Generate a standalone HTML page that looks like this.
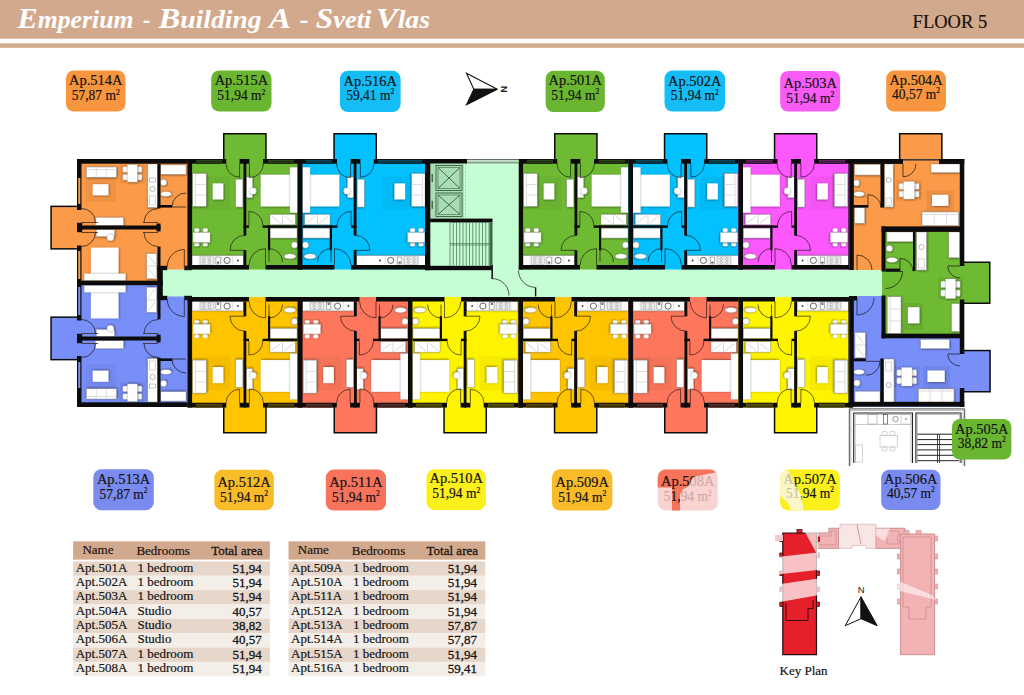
<!DOCTYPE html>
<html><head><meta charset="utf-8"><title>Emperium - Building A - Floor 5</title>
<style>
html,body{margin:0;padding:0;background:#fff;}
body{width:1024px;height:695px;overflow:hidden;}
svg{display:block;font-family:"Liberation Serif",serif;}
</style></head><body>
<svg width="1024" height="695" viewBox="0 0 1024 695">
<defs><filter id="ds" x="-20%" y="-20%" width="140%" height="140%"><feDropShadow dx="0.6" dy="0.6" stdDeviation="1.0" flood-color="#000" flood-opacity="0.5"/></filter></defs>
<rect width="1024" height="695" fill="#fff"/>
<rect x="157.50" y="268.00" width="728.50" height="30.50" fill="#C5FDD4" />
<path d="M77 159H190V269.5H160.5V283H77Z" fill="#FB9A48"/>
<rect x="50.30" y="205.60" width="28.70" height="44.00" fill="#0c0c0c" />
<rect x="51.80" y="207.10" width="27.20" height="41.00" fill="#FB9A48" />
<rect x="86.00" y="177.00" width="30.00" height="25.00" fill="rgba(0,0,0,0.04)" />
<rect x="86.30" y="167.00" width="30.20" height="10.20" fill="#FFFFFF" filter="url(#ds)" stroke="#8a8a8a" stroke-width="0.5"/>
<path d="M96.3 167.5v9.5M106.3 167.5v9.5M87 169.5h29" stroke="#c8c8c8" stroke-width="0.6" fill="none"/>
<rect x="92.70" y="184.20" width="15.70" height="11.10" fill="#FFFFFF" filter="url(#ds)" />
<rect x="119.90" y="163.20" width="24.90" height="20.30" fill="rgba(0,0,0,0.06)" />
<rect x="122.90" y="166.78" width="5.10" height="5.54" fill="#FFFFFF" filter="url(#ds)" rx="1.2" stroke="#bbb" stroke-width="0.3"/>
<rect x="136.70" y="166.78" width="5.10" height="5.54" fill="#FFFFFF" filter="url(#ds)" rx="1.2" stroke="#bbb" stroke-width="0.3"/>
<rect x="122.90" y="174.39" width="5.10" height="5.54" fill="#FFFFFF" filter="url(#ds)" rx="1.2" stroke="#bbb" stroke-width="0.3"/>
<rect x="136.70" y="174.39" width="5.10" height="5.54" fill="#FFFFFF" filter="url(#ds)" rx="1.2" stroke="#bbb" stroke-width="0.3"/>
<rect x="127.50" y="164.70" width="9.70" height="17.30" fill="#FFFFFF" filter="url(#ds)" stroke="#bbb" stroke-width="0.3"/>
<rect x="147.70" y="164.00" width="9.80" height="43.40" fill="#FFFFFF" filter="url(#ds)" stroke="#8a8a8a" stroke-width="0.5"/>
<circle cx="152.6" cy="189" r="2.6" fill="none" stroke="#8a8a8a" stroke-width="0.6"/>
<rect x="149.5" y="196" width="6" height="9" fill="none" stroke="#aaa" stroke-width="0.5"/>
<rect x="149.5" y="178" width="6" height="4" fill="none" stroke="#8a8a8a" stroke-width="0.5"/>
<rect x="160.80" y="165.00" width="25.20" height="9.20" fill="#FFFFFF" filter="url(#ds)" stroke="#8a8a8a" stroke-width="0.4"/>
<circle cx="163.5" cy="182.5" r="3.2" fill="#FFFFFF" filter="url(#ds)" stroke="#888" stroke-width="0.5"/>
<ellipse cx="166" cy="194" rx="5.5" ry="2.6" fill="#FFFFFF" filter="url(#ds)" stroke="#888" stroke-width="0.4"/>
<rect x="95.30" y="217.40" width="28.20" height="8.10" fill="#FFFFFF" filter="url(#ds)" stroke="#8a8a8a" stroke-width="0.4"/>
<rect x="96.30" y="229.50" width="18.20" height="7.10" fill="#FFFFFF" filter="url(#ds)" stroke="#8a8a8a" stroke-width="0.4"/>
<circle cx="110.4" cy="237.5" r="3.3" fill="#FFFFFF" filter="url(#ds)" stroke="#c0c0c0" stroke-width="0.4"/>
<rect x="90.90" y="247.60" width="27.60" height="31.20" fill="#FFFFFF" filter="url(#ds)" />
<rect x="84.30" y="273.80" width="41.20" height="6.70" fill="#FFFFFF" filter="url(#ds)" stroke="#cfcfcf" stroke-width="0.4"/>
<rect x="146.70" y="253.70" width="10.00" height="25.10" fill="#FFFFFF" filter="url(#ds)" stroke="#8a8a8a" stroke-width="0.4"/>
<path d="M146.7 266h10M148 255l7 9M148 268l7 9" stroke="#999" stroke-width="0.4" fill="none"/>
<rect x="77.00" y="159.00" width="4.50" height="19.00" fill="#0c0c0c" />
<rect x="77.00" y="178.00" width="1.20" height="26.00" fill="#0c0c0c" />
<rect x="80.30" y="178.00" width="1.20" height="26.00" fill="#0c0c0c" />
<rect x="77.00" y="204.00" width="4.50" height="6.00" fill="#0c0c0c" />
<rect x="77.00" y="245.50" width="4.50" height="5.50" fill="#0c0c0c" />
<rect x="77.00" y="251.00" width="1.20" height="28.00" fill="#0c0c0c" />
<rect x="80.30" y="251.00" width="1.20" height="28.00" fill="#0c0c0c" />
<rect x="77.00" y="279.00" width="4.50" height="4.00" fill="#0c0c0c" />
<rect x="77.00" y="159.00" width="113.00" height="4.70" fill="#0c0c0c" />
<rect x="77.00" y="225.50" width="83.50" height="4.00" fill="#0c0c0c" />
<rect x="77.00" y="222.80" width="5.20" height="9.40" fill="#0c0c0c" />
<rect x="156.50" y="223.50" width="4.00" height="8.00" fill="#0c0c0c" />
<rect x="81.50" y="222.20" width="16.50" height="0.80" fill="#3a2a1a" />
<rect x="81.50" y="232.00" width="16.50" height="0.80" fill="#3a2a1a" />
<rect x="143.00" y="222.20" width="15.00" height="0.80" fill="#3a2a1a" />
<rect x="143.00" y="232.00" width="15.00" height="0.80" fill="#3a2a1a" />
<rect x="157.50" y="163.70" width="3.00" height="44.70" fill="#0c0c0c" />
<rect x="157.50" y="246.60" width="3.00" height="36.40" fill="#0c0c0c" />
<rect x="157.50" y="205.00" width="14.50" height="2.60" fill="#0c0c0c" />
<rect x="77.00" y="280.80" width="85.80" height="4.40" fill="#0c0c0c" />
<path d="M81.50 208.50 A14 14 0 0 1 95.50 222.50" stroke="#111" stroke-width="0.8" fill="none" opacity="0.85"/>
<path d="M81.50 246.50 A14 14 0 0 0 95.50 232.50" stroke="#111" stroke-width="0.8" fill="none" opacity="0.85"/>
<path d="M158.00 208.50 A14 14 0 0 0 144.00 222.50" stroke="#111" stroke-width="0.8" fill="none" opacity="0.85"/>
<path d="M158.00 246.50 A14 14 0 0 1 144.00 232.50" stroke="#111" stroke-width="0.8" fill="none" opacity="0.85"/>
<path d="M186.00 207.00 L172.00 207.00 A14 14 0 0 1 186.00 193.00" stroke="#111" stroke-width="0.8" fill="none" opacity="0.85"/>
<path d="M184.30 266.50 L184.30 249.50 A17 17 0 0 0 167.30 266.50" stroke="#111" stroke-width="0.8" fill="none" opacity="0.85"/>
<rect x="157.50" y="265.80" width="9.70" height="4.40" fill="#0c0c0c" />
<rect x="184.30" y="265.80" width="7.70" height="4.40" fill="#0c0c0c" />
<g transform="matrix(1 0 0 -1 0 566)">
<path d="M77 159H190V269.5H160.5V283H77Z" fill="#788FF9"/>
<rect x="50.30" y="205.60" width="28.70" height="44.00" fill="#0c0c0c" />
<rect x="51.80" y="207.10" width="27.20" height="41.00" fill="#788FF9" />
<rect x="86.00" y="177.00" width="30.00" height="25.00" fill="rgba(0,0,0,0.04)" />
<rect x="86.30" y="167.00" width="30.20" height="10.20" fill="#FFFFFF" filter="url(#ds)" stroke="#8a8a8a" stroke-width="0.5"/>
<path d="M96.3 167.5v9.5M106.3 167.5v9.5M87 169.5h29" stroke="#c8c8c8" stroke-width="0.6" fill="none"/>
<rect x="92.70" y="184.20" width="15.70" height="11.10" fill="#FFFFFF" filter="url(#ds)" />
<rect x="119.90" y="163.20" width="24.90" height="20.30" fill="rgba(0,0,0,0.06)" />
<rect x="122.90" y="166.78" width="5.10" height="5.54" fill="#FFFFFF" filter="url(#ds)" rx="1.2" stroke="#bbb" stroke-width="0.3"/>
<rect x="136.70" y="166.78" width="5.10" height="5.54" fill="#FFFFFF" filter="url(#ds)" rx="1.2" stroke="#bbb" stroke-width="0.3"/>
<rect x="122.90" y="174.39" width="5.10" height="5.54" fill="#FFFFFF" filter="url(#ds)" rx="1.2" stroke="#bbb" stroke-width="0.3"/>
<rect x="136.70" y="174.39" width="5.10" height="5.54" fill="#FFFFFF" filter="url(#ds)" rx="1.2" stroke="#bbb" stroke-width="0.3"/>
<rect x="127.50" y="164.70" width="9.70" height="17.30" fill="#FFFFFF" filter="url(#ds)" stroke="#bbb" stroke-width="0.3"/>
<rect x="147.70" y="164.00" width="9.80" height="43.40" fill="#FFFFFF" filter="url(#ds)" stroke="#8a8a8a" stroke-width="0.5"/>
<circle cx="152.6" cy="189" r="2.6" fill="none" stroke="#8a8a8a" stroke-width="0.6"/>
<rect x="149.5" y="196" width="6" height="9" fill="none" stroke="#aaa" stroke-width="0.5"/>
<rect x="149.5" y="178" width="6" height="4" fill="none" stroke="#8a8a8a" stroke-width="0.5"/>
<rect x="160.80" y="165.00" width="25.20" height="9.20" fill="#FFFFFF" filter="url(#ds)" stroke="#8a8a8a" stroke-width="0.4"/>
<circle cx="163.5" cy="182.5" r="3.2" fill="#FFFFFF" filter="url(#ds)" stroke="#888" stroke-width="0.5"/>
<ellipse cx="166" cy="194" rx="5.5" ry="2.6" fill="#FFFFFF" filter="url(#ds)" stroke="#888" stroke-width="0.4"/>
<rect x="95.30" y="217.40" width="28.20" height="8.10" fill="#FFFFFF" filter="url(#ds)" stroke="#8a8a8a" stroke-width="0.4"/>
<rect x="96.30" y="229.50" width="18.20" height="7.10" fill="#FFFFFF" filter="url(#ds)" stroke="#8a8a8a" stroke-width="0.4"/>
<circle cx="110.4" cy="237.5" r="3.3" fill="#FFFFFF" filter="url(#ds)" stroke="#c0c0c0" stroke-width="0.4"/>
<rect x="90.90" y="247.60" width="27.60" height="31.20" fill="#FFFFFF" filter="url(#ds)" />
<rect x="84.30" y="273.80" width="41.20" height="6.70" fill="#FFFFFF" filter="url(#ds)" stroke="#cfcfcf" stroke-width="0.4"/>
<rect x="146.70" y="253.70" width="10.00" height="25.10" fill="#FFFFFF" filter="url(#ds)" stroke="#8a8a8a" stroke-width="0.4"/>
<path d="M146.7 266h10M148 255l7 9M148 268l7 9" stroke="#999" stroke-width="0.4" fill="none"/>
<rect x="77.00" y="159.00" width="4.50" height="19.00" fill="#0c0c0c" />
<rect x="77.00" y="178.00" width="1.20" height="26.00" fill="#0c0c0c" />
<rect x="80.30" y="178.00" width="1.20" height="26.00" fill="#0c0c0c" />
<rect x="77.00" y="204.00" width="4.50" height="6.00" fill="#0c0c0c" />
<rect x="77.00" y="245.50" width="4.50" height="5.50" fill="#0c0c0c" />
<rect x="77.00" y="251.00" width="1.20" height="28.00" fill="#0c0c0c" />
<rect x="80.30" y="251.00" width="1.20" height="28.00" fill="#0c0c0c" />
<rect x="77.00" y="279.00" width="4.50" height="4.00" fill="#0c0c0c" />
<rect x="77.00" y="159.00" width="113.00" height="4.70" fill="#0c0c0c" />
<rect x="77.00" y="225.50" width="83.50" height="4.00" fill="#0c0c0c" />
<rect x="77.00" y="222.80" width="5.20" height="9.40" fill="#0c0c0c" />
<rect x="156.50" y="223.50" width="4.00" height="8.00" fill="#0c0c0c" />
<rect x="81.50" y="222.20" width="16.50" height="0.80" fill="#3a2a1a" />
<rect x="81.50" y="232.00" width="16.50" height="0.80" fill="#3a2a1a" />
<rect x="143.00" y="222.20" width="15.00" height="0.80" fill="#3a2a1a" />
<rect x="143.00" y="232.00" width="15.00" height="0.80" fill="#3a2a1a" />
<rect x="157.50" y="163.70" width="3.00" height="44.70" fill="#0c0c0c" />
<rect x="157.50" y="246.60" width="3.00" height="36.40" fill="#0c0c0c" />
<rect x="157.50" y="205.00" width="14.50" height="2.60" fill="#0c0c0c" />
<rect x="77.00" y="280.80" width="85.80" height="4.40" fill="#0c0c0c" />
<path d="M81.50 208.50 A14 14 0 0 1 95.50 222.50" stroke="#111" stroke-width="0.8" fill="none" opacity="0.85"/>
<path d="M81.50 246.50 A14 14 0 0 0 95.50 232.50" stroke="#111" stroke-width="0.8" fill="none" opacity="0.85"/>
<path d="M158.00 208.50 A14 14 0 0 0 144.00 222.50" stroke="#111" stroke-width="0.8" fill="none" opacity="0.85"/>
<path d="M158.00 246.50 A14 14 0 0 1 144.00 232.50" stroke="#111" stroke-width="0.8" fill="none" opacity="0.85"/>
<path d="M186.00 207.00 L172.00 207.00 A14 14 0 0 1 186.00 193.00" stroke="#111" stroke-width="0.8" fill="none" opacity="0.85"/>
<path d="M184.30 266.50 L184.30 249.50 A17 17 0 0 0 167.30 266.50" stroke="#111" stroke-width="0.8" fill="none" opacity="0.85"/>
<rect x="157.50" y="265.80" width="9.70" height="4.40" fill="#0c0c0c" />
<rect x="184.30" y="265.80" width="7.70" height="4.40" fill="#0c0c0c" />
</g>
<g transform="matrix(1 0 0 1 187.50 159.00)">
<rect x="0.00" y="0.00" width="114.50" height="110.50" fill="#6FBA33" />
<rect x="35.50" y="-26.00" width="43.70" height="27.00" fill="#0c0c0c" />
<rect x="37.00" y="-24.50" width="40.70" height="26.50" fill="#6FBA33" />
<rect x="19.30" y="17.40" width="23.60" height="33.60" fill="rgba(0,0,0,0.04)" />
<rect x="5.20" y="14.40" width="13.50" height="33.00" fill="#FFFFFF" filter="url(#ds)" stroke="#8a8a8a" stroke-width="0.5"/>
<path d="M8 15v32M8 25.5h10.5M8 36h10.5" stroke="#c8c8c8" stroke-width="0.6" fill="none"/>
<rect x="25.20" y="24.40" width="10.60" height="16.00" fill="#FFFFFF" filter="url(#ds)" />
<rect x="48.20" y="20.30" width="7.10" height="27.70" fill="#FFFFFF" filter="url(#ds)" stroke="#8a8a8a" stroke-width="0.4"/>
<rect x="6.80" y="69.30" width="5.00" height="3.90" fill="#FFFFFF" filter="url(#ds)" rx="1.6" stroke="#bbb" stroke-width="0.3"/>
<rect x="6.80" y="83.40" width="5.00" height="3.90" fill="#FFFFFF" filter="url(#ds)" rx="1.6" stroke="#bbb" stroke-width="0.3"/>
<rect x="15.30" y="69.30" width="5.00" height="3.90" fill="#FFFFFF" filter="url(#ds)" rx="1.6" stroke="#bbb" stroke-width="0.3"/>
<rect x="15.30" y="83.40" width="5.00" height="3.90" fill="#FFFFFF" filter="url(#ds)" rx="1.6" stroke="#bbb" stroke-width="0.3"/>
<rect x="5.60" y="73.60" width="16.90" height="9.60" fill="#FFFFFF" filter="url(#ds)" stroke="#bbb" stroke-width="0.3"/>
<rect x="4.50" y="96.60" width="51.30" height="9.70" fill="#FFFFFF" filter="url(#ds)" stroke="#8a8a8a" stroke-width="0.5"/>
<path d="M11.7 96.6v9.7M26.8 96.6v9.7M34.2 96.6v9.7M45.2 96.6v9.7" stroke="#c4c4c4" stroke-width="0.5"/>
<rect x="12.6" y="97.8" width="13.2" height="7.4" fill="#ececec" stroke="#9a9a9a" stroke-width="0.4"/>
<circle cx="16.2" cy="99.9" r="1.3" fill="none" stroke="#8a8a8a" stroke-width="0.45"/>
<circle cx="21.8" cy="99.9" r="1.3" fill="none" stroke="#8a8a8a" stroke-width="0.45"/>
<circle cx="16.2" cy="103.2" r="1.3" fill="none" stroke="#8a8a8a" stroke-width="0.45"/>
<circle cx="21.8" cy="103.2" r="1.3" fill="none" stroke="#8a8a8a" stroke-width="0.45"/>
<rect x="28.4" y="98" width="4.4" height="7" fill="none" stroke="#666" stroke-width="0.5"/>
<rect x="29.6" y="102.6" width="2" height="1.8" fill="#556"/>
<circle cx="39.6" cy="101.4" r="3.1" fill="none" stroke="#4a4a4a" stroke-width="0.85"/>
<circle cx="50.4" cy="101.5" r="0.9" fill="#333"/>
<rect x="73.20" y="15.70" width="33.30" height="31.70" fill="#FFFFFF" filter="url(#ds)" />
<rect x="102.50" y="8.30" width="7.50" height="45.40" fill="#FFFFFF" filter="url(#ds)" stroke="#cfcfcf" stroke-width="0.4"/>
<rect x="58.80" y="18.00" width="6.40" height="20.80" fill="#FFFFFF" filter="url(#ds)" stroke="#8a8a8a" stroke-width="0.4"/>
<circle cx="65.50" cy="32" r="3.3" fill="#FFFFFF" filter="url(#ds)" stroke="#c0c0c0" stroke-width="0.4"/>
<rect x="82.50" y="55.40" width="25.20" height="10.40" fill="#FFFFFF" filter="url(#ds)" stroke="#8a8a8a" stroke-width="0.4"/>
<path d="M95.00 55.4v10.4M84.00 57l9 7M97.00 57l9 7" stroke="#999" stroke-width="0.4" fill="none"/>
<rect x="82.50" y="69.20" width="27.00" height="9.80" fill="#FFFFFF" filter="url(#ds)" stroke="#8a8a8a" stroke-width="0.4"/>
<circle cx="107.00" cy="86" r="3.2" fill="#FFFFFF" filter="url(#ds)" stroke="#888" stroke-width="0.5"/>
<ellipse cx="102.50" cy="97.3" rx="5.8" ry="2.6" fill="#FFFFFF" filter="url(#ds)" stroke="#888" stroke-width="0.4"/>
<rect x="0.00" y="0.00" width="8.50" height="4.70" fill="#0c0c0c" />
<rect x="8.50" y="0.00" width="25.50" height="4.70" fill="rgba(0,0,0,0.6)" />
<rect x="8.50" y="0.00" width="25.50" height="0.90" fill="#0c0c0c" />
<rect x="8.50" y="2.00" width="25.50" height="0.70" fill="#222" />
<rect x="8.50" y="3.80" width="25.50" height="0.90" fill="#0c0c0c" />
<rect x="34.00" y="0.00" width="4.80" height="4.70" fill="#0c0c0c" />
<rect x="52.10" y="0.00" width="9.80" height="4.70" fill="#0c0c0c" />
<rect x="75.50" y="0.00" width="5.20" height="4.70" fill="#0c0c0c" />
<rect x="80.70" y="0.00" width="25.80" height="4.70" fill="rgba(0,0,0,0.6)" />
<rect x="80.70" y="0.00" width="25.80" height="0.90" fill="#0c0c0c" />
<rect x="80.70" y="2.00" width="25.80" height="0.70" fill="#222" />
<rect x="80.70" y="3.80" width="25.80" height="0.90" fill="#0c0c0c" />
<rect x="106.50" y="0.00" width="8.00" height="4.70" fill="#0c0c0c" />
<rect x="0.00" y="0.00" width="4.60" height="110.50" fill="#0c0c0c" />
<rect x="110.00" y="0.00" width="4.50" height="110.50" fill="#0c0c0c" />
<rect x="0.00" y="106.00" width="61.50" height="4.50" fill="#0c0c0c" />
<rect x="78.00" y="106.00" width="36.50" height="4.50" fill="#0c0c0c" />
<rect x="56.00" y="0.00" width="2.80" height="76.60" fill="#0c0c0c" />
<rect x="56.00" y="91.30" width="2.80" height="14.70" fill="#0c0c0c" />
<rect x="75.00" y="66.40" width="35.00" height="2.40" fill="#0c0c0c" />
<rect x="56.00" y="66.40" width="5.50" height="2.40" fill="#0c0c0c" />
<rect x="80.50" y="66.40" width="2.20" height="24.90" fill="#0c0c0c" />
<path d="M52.10 4.70 L52.10 18.20 A13.5 13.5 0 0 1 38.60 4.70" stroke="#111" stroke-width="0.8" fill="none" opacity="0.8"/>
<path d="M61.90 4.70 L61.90 18.70 A14.0 14.0 0 0 0 75.90 4.70" stroke="#111" stroke-width="0.8" fill="none" opacity="0.8"/>
<path d="M57.50 91.30 L42.50 91.30 A15 15 0 0 1 57.50 76.30" stroke="#111" stroke-width="0.8" fill="none" opacity="0.8"/>
<path d="M61.40 66.40 L61.40 52.40 A14 14 0 0 1 75.40 66.40" stroke="#111" stroke-width="0.8" fill="none" opacity="0.8"/>
<path d="M81.50 103.00 L81.50 89.50 A13.5 13.5 0 0 1 95.00 103.00" stroke="#111" stroke-width="0.8" fill="none" opacity="0.8"/>
<path d="M78.00 106.00 L78.00 89.60 A16.4 16.4 0 0 0 61.60 106.00" stroke="#111" stroke-width="0.8" fill="none" opacity="0.8"/>
</g>
<g transform="matrix(-1 0 0 1 430.30 159.00)">
<rect x="0.00" y="0.00" width="132.30" height="110.50" fill="#02C1FE" />
<rect x="53.30" y="-26.00" width="43.70" height="27.00" fill="#0c0c0c" />
<rect x="54.80" y="-24.50" width="40.70" height="26.50" fill="#02C1FE" />
<rect x="21.97" y="17.40" width="26.27" height="33.60" fill="rgba(0,0,0,0.04)" />
<rect x="5.20" y="14.40" width="13.50" height="33.00" fill="#FFFFFF" filter="url(#ds)" stroke="#8a8a8a" stroke-width="0.5"/>
<path d="M8 15v32M8 25.5h10.5M8 36h10.5" stroke="#c8c8c8" stroke-width="0.6" fill="none"/>
<rect x="25.20" y="24.40" width="10.60" height="16.00" fill="#FFFFFF" filter="url(#ds)" />
<rect x="66.00" y="20.30" width="7.10" height="27.70" fill="#FFFFFF" filter="url(#ds)" stroke="#8a8a8a" stroke-width="0.4"/>
<rect x="6.80" y="69.30" width="5.00" height="3.90" fill="#FFFFFF" filter="url(#ds)" rx="1.6" stroke="#bbb" stroke-width="0.3"/>
<rect x="6.80" y="83.40" width="5.00" height="3.90" fill="#FFFFFF" filter="url(#ds)" rx="1.6" stroke="#bbb" stroke-width="0.3"/>
<rect x="15.30" y="69.30" width="5.00" height="3.90" fill="#FFFFFF" filter="url(#ds)" rx="1.6" stroke="#bbb" stroke-width="0.3"/>
<rect x="15.30" y="83.40" width="5.00" height="3.90" fill="#FFFFFF" filter="url(#ds)" rx="1.6" stroke="#bbb" stroke-width="0.3"/>
<rect x="5.60" y="73.60" width="16.90" height="9.60" fill="#FFFFFF" filter="url(#ds)" stroke="#bbb" stroke-width="0.3"/>
<rect x="4.50" y="96.60" width="69.10" height="9.70" fill="#FFFFFF" filter="url(#ds)" stroke="#8a8a8a" stroke-width="0.5"/>
<path d="M11.7 96.6v9.7M26.8 96.6v9.7M34.2 96.6v9.7M45.2 96.6v9.7" stroke="#c4c4c4" stroke-width="0.5"/>
<rect x="12.6" y="97.8" width="13.2" height="7.4" fill="#ececec" stroke="#9a9a9a" stroke-width="0.4"/>
<circle cx="16.2" cy="99.9" r="1.3" fill="none" stroke="#8a8a8a" stroke-width="0.45"/>
<circle cx="21.8" cy="99.9" r="1.3" fill="none" stroke="#8a8a8a" stroke-width="0.45"/>
<circle cx="16.2" cy="103.2" r="1.3" fill="none" stroke="#8a8a8a" stroke-width="0.45"/>
<circle cx="21.8" cy="103.2" r="1.3" fill="none" stroke="#8a8a8a" stroke-width="0.45"/>
<rect x="28.4" y="98" width="4.4" height="7" fill="none" stroke="#666" stroke-width="0.5"/>
<rect x="29.6" y="102.6" width="2" height="1.8" fill="#556"/>
<circle cx="39.6" cy="101.4" r="3.1" fill="none" stroke="#4a4a4a" stroke-width="0.85"/>
<circle cx="50.4" cy="101.5" r="0.9" fill="#333"/>
<rect x="91.00" y="15.70" width="33.30" height="31.70" fill="#FFFFFF" filter="url(#ds)" />
<rect x="120.30" y="8.30" width="7.50" height="45.40" fill="#FFFFFF" filter="url(#ds)" stroke="#cfcfcf" stroke-width="0.4"/>
<rect x="76.60" y="18.00" width="6.40" height="20.80" fill="#FFFFFF" filter="url(#ds)" stroke="#8a8a8a" stroke-width="0.4"/>
<circle cx="83.30" cy="32" r="3.3" fill="#FFFFFF" filter="url(#ds)" stroke="#c0c0c0" stroke-width="0.4"/>
<rect x="100.30" y="55.40" width="25.20" height="10.40" fill="#FFFFFF" filter="url(#ds)" stroke="#8a8a8a" stroke-width="0.4"/>
<path d="M112.80 55.4v10.4M101.80 57l9 7M114.80 57l9 7" stroke="#999" stroke-width="0.4" fill="none"/>
<rect x="100.30" y="69.20" width="27.00" height="9.80" fill="#FFFFFF" filter="url(#ds)" stroke="#8a8a8a" stroke-width="0.4"/>
<circle cx="124.80" cy="86" r="3.2" fill="#FFFFFF" filter="url(#ds)" stroke="#888" stroke-width="0.5"/>
<ellipse cx="120.30" cy="97.3" rx="5.8" ry="2.6" fill="#FFFFFF" filter="url(#ds)" stroke="#888" stroke-width="0.4"/>
<rect x="0.00" y="0.00" width="8.50" height="4.70" fill="#0c0c0c" />
<rect x="8.50" y="0.00" width="43.30" height="4.70" fill="rgba(0,0,0,0.6)" />
<rect x="8.50" y="0.00" width="43.30" height="0.90" fill="#0c0c0c" />
<rect x="8.50" y="2.00" width="43.30" height="0.70" fill="#222" />
<rect x="8.50" y="3.80" width="43.30" height="0.90" fill="#0c0c0c" />
<rect x="51.80" y="0.00" width="4.80" height="4.70" fill="#0c0c0c" />
<rect x="69.90" y="0.00" width="9.80" height="4.70" fill="#0c0c0c" />
<rect x="93.30" y="0.00" width="5.20" height="4.70" fill="#0c0c0c" />
<rect x="98.50" y="0.00" width="25.80" height="4.70" fill="rgba(0,0,0,0.6)" />
<rect x="98.50" y="0.00" width="25.80" height="0.90" fill="#0c0c0c" />
<rect x="98.50" y="2.00" width="25.80" height="0.70" fill="#222" />
<rect x="98.50" y="3.80" width="25.80" height="0.90" fill="#0c0c0c" />
<rect x="124.30" y="0.00" width="8.00" height="4.70" fill="#0c0c0c" />
<rect x="0.00" y="0.00" width="4.60" height="110.50" fill="#0c0c0c" />
<rect x="127.80" y="0.00" width="4.50" height="110.50" fill="#0c0c0c" />
<rect x="0.00" y="106.00" width="79.30" height="4.50" fill="#0c0c0c" />
<rect x="95.80" y="106.00" width="36.50" height="4.50" fill="#0c0c0c" />
<rect x="73.80" y="0.00" width="2.80" height="76.60" fill="#0c0c0c" />
<rect x="73.80" y="91.30" width="2.80" height="14.70" fill="#0c0c0c" />
<rect x="92.80" y="66.40" width="35.00" height="2.40" fill="#0c0c0c" />
<rect x="73.80" y="66.40" width="5.50" height="2.40" fill="#0c0c0c" />
<rect x="98.30" y="66.40" width="2.20" height="24.90" fill="#0c0c0c" />
<path d="M69.90 4.70 L69.90 18.20 A13.5 13.5 0 0 1 56.40 4.70" stroke="#111" stroke-width="0.8" fill="none" opacity="0.8"/>
<path d="M79.70 4.70 L79.70 18.70 A14.0 14.0 0 0 0 93.70 4.70" stroke="#111" stroke-width="0.8" fill="none" opacity="0.8"/>
<path d="M75.30 91.30 L60.30 91.30 A15 15 0 0 1 75.30 76.30" stroke="#111" stroke-width="0.8" fill="none" opacity="0.8"/>
<path d="M79.20 66.40 L79.20 52.40 A14 14 0 0 1 93.20 66.40" stroke="#111" stroke-width="0.8" fill="none" opacity="0.8"/>
<path d="M99.30 103.00 L99.30 89.50 A13.5 13.5 0 0 1 112.80 103.00" stroke="#111" stroke-width="0.8" fill="none" opacity="0.8"/>
<path d="M95.80 106.00 L95.80 89.60 A16.4 16.4 0 0 0 79.40 106.00" stroke="#111" stroke-width="0.8" fill="none" opacity="0.8"/>
</g>
<g transform="matrix(1 0 0 1 518.50 159.00)">
<rect x="0.00" y="0.00" width="114.50" height="110.50" fill="#6FBA33" />
<rect x="35.50" y="-26.00" width="43.70" height="27.00" fill="#0c0c0c" />
<rect x="37.00" y="-24.50" width="40.70" height="26.50" fill="#6FBA33" />
<rect x="19.30" y="17.40" width="23.60" height="33.60" fill="rgba(0,0,0,0.04)" />
<rect x="5.20" y="14.40" width="13.50" height="33.00" fill="#FFFFFF" filter="url(#ds)" stroke="#8a8a8a" stroke-width="0.5"/>
<path d="M8 15v32M8 25.5h10.5M8 36h10.5" stroke="#c8c8c8" stroke-width="0.6" fill="none"/>
<rect x="25.20" y="24.40" width="10.60" height="16.00" fill="#FFFFFF" filter="url(#ds)" />
<rect x="48.20" y="20.30" width="7.10" height="27.70" fill="#FFFFFF" filter="url(#ds)" stroke="#8a8a8a" stroke-width="0.4"/>
<rect x="6.80" y="69.30" width="5.00" height="3.90" fill="#FFFFFF" filter="url(#ds)" rx="1.6" stroke="#bbb" stroke-width="0.3"/>
<rect x="6.80" y="83.40" width="5.00" height="3.90" fill="#FFFFFF" filter="url(#ds)" rx="1.6" stroke="#bbb" stroke-width="0.3"/>
<rect x="15.30" y="69.30" width="5.00" height="3.90" fill="#FFFFFF" filter="url(#ds)" rx="1.6" stroke="#bbb" stroke-width="0.3"/>
<rect x="15.30" y="83.40" width="5.00" height="3.90" fill="#FFFFFF" filter="url(#ds)" rx="1.6" stroke="#bbb" stroke-width="0.3"/>
<rect x="5.60" y="73.60" width="16.90" height="9.60" fill="#FFFFFF" filter="url(#ds)" stroke="#bbb" stroke-width="0.3"/>
<rect x="4.50" y="96.60" width="51.30" height="9.70" fill="#FFFFFF" filter="url(#ds)" stroke="#8a8a8a" stroke-width="0.5"/>
<path d="M11.7 96.6v9.7M26.8 96.6v9.7M34.2 96.6v9.7M45.2 96.6v9.7" stroke="#c4c4c4" stroke-width="0.5"/>
<rect x="12.6" y="97.8" width="13.2" height="7.4" fill="#ececec" stroke="#9a9a9a" stroke-width="0.4"/>
<circle cx="16.2" cy="99.9" r="1.3" fill="none" stroke="#8a8a8a" stroke-width="0.45"/>
<circle cx="21.8" cy="99.9" r="1.3" fill="none" stroke="#8a8a8a" stroke-width="0.45"/>
<circle cx="16.2" cy="103.2" r="1.3" fill="none" stroke="#8a8a8a" stroke-width="0.45"/>
<circle cx="21.8" cy="103.2" r="1.3" fill="none" stroke="#8a8a8a" stroke-width="0.45"/>
<rect x="28.4" y="98" width="4.4" height="7" fill="none" stroke="#666" stroke-width="0.5"/>
<rect x="29.6" y="102.6" width="2" height="1.8" fill="#556"/>
<circle cx="39.6" cy="101.4" r="3.1" fill="none" stroke="#4a4a4a" stroke-width="0.85"/>
<circle cx="50.4" cy="101.5" r="0.9" fill="#333"/>
<rect x="73.20" y="15.70" width="33.30" height="31.70" fill="#FFFFFF" filter="url(#ds)" />
<rect x="102.50" y="8.30" width="7.50" height="45.40" fill="#FFFFFF" filter="url(#ds)" stroke="#cfcfcf" stroke-width="0.4"/>
<rect x="58.80" y="18.00" width="6.40" height="20.80" fill="#FFFFFF" filter="url(#ds)" stroke="#8a8a8a" stroke-width="0.4"/>
<circle cx="65.50" cy="32" r="3.3" fill="#FFFFFF" filter="url(#ds)" stroke="#c0c0c0" stroke-width="0.4"/>
<rect x="82.50" y="55.40" width="25.20" height="10.40" fill="#FFFFFF" filter="url(#ds)" stroke="#8a8a8a" stroke-width="0.4"/>
<path d="M95.00 55.4v10.4M84.00 57l9 7M97.00 57l9 7" stroke="#999" stroke-width="0.4" fill="none"/>
<rect x="82.50" y="69.20" width="27.00" height="9.80" fill="#FFFFFF" filter="url(#ds)" stroke="#8a8a8a" stroke-width="0.4"/>
<circle cx="107.00" cy="86" r="3.2" fill="#FFFFFF" filter="url(#ds)" stroke="#888" stroke-width="0.5"/>
<ellipse cx="102.50" cy="97.3" rx="5.8" ry="2.6" fill="#FFFFFF" filter="url(#ds)" stroke="#888" stroke-width="0.4"/>
<rect x="0.00" y="0.00" width="8.50" height="4.70" fill="#0c0c0c" />
<rect x="8.50" y="0.00" width="25.50" height="4.70" fill="rgba(0,0,0,0.6)" />
<rect x="8.50" y="0.00" width="25.50" height="0.90" fill="#0c0c0c" />
<rect x="8.50" y="2.00" width="25.50" height="0.70" fill="#222" />
<rect x="8.50" y="3.80" width="25.50" height="0.90" fill="#0c0c0c" />
<rect x="34.00" y="0.00" width="4.80" height="4.70" fill="#0c0c0c" />
<rect x="52.10" y="0.00" width="9.80" height="4.70" fill="#0c0c0c" />
<rect x="75.50" y="0.00" width="5.20" height="4.70" fill="#0c0c0c" />
<rect x="80.70" y="0.00" width="25.80" height="4.70" fill="rgba(0,0,0,0.6)" />
<rect x="80.70" y="0.00" width="25.80" height="0.90" fill="#0c0c0c" />
<rect x="80.70" y="2.00" width="25.80" height="0.70" fill="#222" />
<rect x="80.70" y="3.80" width="25.80" height="0.90" fill="#0c0c0c" />
<rect x="106.50" y="0.00" width="8.00" height="4.70" fill="#0c0c0c" />
<rect x="0.00" y="0.00" width="4.60" height="110.50" fill="#0c0c0c" />
<rect x="110.00" y="0.00" width="4.50" height="110.50" fill="#0c0c0c" />
<rect x="0.00" y="106.00" width="61.50" height="4.50" fill="#0c0c0c" />
<rect x="78.00" y="106.00" width="36.50" height="4.50" fill="#0c0c0c" />
<rect x="56.00" y="0.00" width="2.80" height="76.60" fill="#0c0c0c" />
<rect x="56.00" y="91.30" width="2.80" height="14.70" fill="#0c0c0c" />
<rect x="75.00" y="66.40" width="35.00" height="2.40" fill="#0c0c0c" />
<rect x="56.00" y="66.40" width="5.50" height="2.40" fill="#0c0c0c" />
<rect x="80.50" y="66.40" width="2.20" height="24.90" fill="#0c0c0c" />
<path d="M52.10 4.70 L52.10 18.20 A13.5 13.5 0 0 1 38.60 4.70" stroke="#111" stroke-width="0.8" fill="none" opacity="0.8"/>
<path d="M61.90 4.70 L61.90 18.70 A14.0 14.0 0 0 0 75.90 4.70" stroke="#111" stroke-width="0.8" fill="none" opacity="0.8"/>
<path d="M57.50 91.30 L42.50 91.30 A15 15 0 0 1 57.50 76.30" stroke="#111" stroke-width="0.8" fill="none" opacity="0.8"/>
<path d="M61.40 66.40 L61.40 52.40 A14 14 0 0 1 75.40 66.40" stroke="#111" stroke-width="0.8" fill="none" opacity="0.8"/>
<path d="M81.50 103.00 L81.50 89.50 A13.5 13.5 0 0 1 95.00 103.00" stroke="#111" stroke-width="0.8" fill="none" opacity="0.8"/>
<path d="M78.00 106.00 L78.00 89.60 A16.4 16.4 0 0 0 61.60 106.00" stroke="#111" stroke-width="0.8" fill="none" opacity="0.8"/>
</g>
<g transform="matrix(-1 0 0 1 743.00 159.00)">
<rect x="0.00" y="0.00" width="114.50" height="110.50" fill="#02C1FE" />
<rect x="35.50" y="-26.00" width="43.70" height="27.00" fill="#0c0c0c" />
<rect x="37.00" y="-24.50" width="40.70" height="26.50" fill="#02C1FE" />
<rect x="19.30" y="17.40" width="23.60" height="33.60" fill="rgba(0,0,0,0.04)" />
<rect x="5.20" y="14.40" width="13.50" height="33.00" fill="#FFFFFF" filter="url(#ds)" stroke="#8a8a8a" stroke-width="0.5"/>
<path d="M8 15v32M8 25.5h10.5M8 36h10.5" stroke="#c8c8c8" stroke-width="0.6" fill="none"/>
<rect x="25.20" y="24.40" width="10.60" height="16.00" fill="#FFFFFF" filter="url(#ds)" />
<rect x="48.20" y="20.30" width="7.10" height="27.70" fill="#FFFFFF" filter="url(#ds)" stroke="#8a8a8a" stroke-width="0.4"/>
<rect x="6.80" y="69.30" width="5.00" height="3.90" fill="#FFFFFF" filter="url(#ds)" rx="1.6" stroke="#bbb" stroke-width="0.3"/>
<rect x="6.80" y="83.40" width="5.00" height="3.90" fill="#FFFFFF" filter="url(#ds)" rx="1.6" stroke="#bbb" stroke-width="0.3"/>
<rect x="15.30" y="69.30" width="5.00" height="3.90" fill="#FFFFFF" filter="url(#ds)" rx="1.6" stroke="#bbb" stroke-width="0.3"/>
<rect x="15.30" y="83.40" width="5.00" height="3.90" fill="#FFFFFF" filter="url(#ds)" rx="1.6" stroke="#bbb" stroke-width="0.3"/>
<rect x="5.60" y="73.60" width="16.90" height="9.60" fill="#FFFFFF" filter="url(#ds)" stroke="#bbb" stroke-width="0.3"/>
<rect x="4.50" y="96.60" width="51.30" height="9.70" fill="#FFFFFF" filter="url(#ds)" stroke="#8a8a8a" stroke-width="0.5"/>
<path d="M11.7 96.6v9.7M26.8 96.6v9.7M34.2 96.6v9.7M45.2 96.6v9.7" stroke="#c4c4c4" stroke-width="0.5"/>
<rect x="12.6" y="97.8" width="13.2" height="7.4" fill="#ececec" stroke="#9a9a9a" stroke-width="0.4"/>
<circle cx="16.2" cy="99.9" r="1.3" fill="none" stroke="#8a8a8a" stroke-width="0.45"/>
<circle cx="21.8" cy="99.9" r="1.3" fill="none" stroke="#8a8a8a" stroke-width="0.45"/>
<circle cx="16.2" cy="103.2" r="1.3" fill="none" stroke="#8a8a8a" stroke-width="0.45"/>
<circle cx="21.8" cy="103.2" r="1.3" fill="none" stroke="#8a8a8a" stroke-width="0.45"/>
<rect x="28.4" y="98" width="4.4" height="7" fill="none" stroke="#666" stroke-width="0.5"/>
<rect x="29.6" y="102.6" width="2" height="1.8" fill="#556"/>
<circle cx="39.6" cy="101.4" r="3.1" fill="none" stroke="#4a4a4a" stroke-width="0.85"/>
<circle cx="50.4" cy="101.5" r="0.9" fill="#333"/>
<rect x="73.20" y="15.70" width="33.30" height="31.70" fill="#FFFFFF" filter="url(#ds)" />
<rect x="102.50" y="8.30" width="7.50" height="45.40" fill="#FFFFFF" filter="url(#ds)" stroke="#cfcfcf" stroke-width="0.4"/>
<rect x="58.80" y="18.00" width="6.40" height="20.80" fill="#FFFFFF" filter="url(#ds)" stroke="#8a8a8a" stroke-width="0.4"/>
<circle cx="65.50" cy="32" r="3.3" fill="#FFFFFF" filter="url(#ds)" stroke="#c0c0c0" stroke-width="0.4"/>
<rect x="82.50" y="55.40" width="25.20" height="10.40" fill="#FFFFFF" filter="url(#ds)" stroke="#8a8a8a" stroke-width="0.4"/>
<path d="M95.00 55.4v10.4M84.00 57l9 7M97.00 57l9 7" stroke="#999" stroke-width="0.4" fill="none"/>
<rect x="82.50" y="69.20" width="27.00" height="9.80" fill="#FFFFFF" filter="url(#ds)" stroke="#8a8a8a" stroke-width="0.4"/>
<circle cx="107.00" cy="86" r="3.2" fill="#FFFFFF" filter="url(#ds)" stroke="#888" stroke-width="0.5"/>
<ellipse cx="102.50" cy="97.3" rx="5.8" ry="2.6" fill="#FFFFFF" filter="url(#ds)" stroke="#888" stroke-width="0.4"/>
<rect x="0.00" y="0.00" width="8.50" height="4.70" fill="#0c0c0c" />
<rect x="8.50" y="0.00" width="25.50" height="4.70" fill="rgba(0,0,0,0.6)" />
<rect x="8.50" y="0.00" width="25.50" height="0.90" fill="#0c0c0c" />
<rect x="8.50" y="2.00" width="25.50" height="0.70" fill="#222" />
<rect x="8.50" y="3.80" width="25.50" height="0.90" fill="#0c0c0c" />
<rect x="34.00" y="0.00" width="4.80" height="4.70" fill="#0c0c0c" />
<rect x="52.10" y="0.00" width="9.80" height="4.70" fill="#0c0c0c" />
<rect x="75.50" y="0.00" width="5.20" height="4.70" fill="#0c0c0c" />
<rect x="80.70" y="0.00" width="25.80" height="4.70" fill="rgba(0,0,0,0.6)" />
<rect x="80.70" y="0.00" width="25.80" height="0.90" fill="#0c0c0c" />
<rect x="80.70" y="2.00" width="25.80" height="0.70" fill="#222" />
<rect x="80.70" y="3.80" width="25.80" height="0.90" fill="#0c0c0c" />
<rect x="106.50" y="0.00" width="8.00" height="4.70" fill="#0c0c0c" />
<rect x="0.00" y="0.00" width="4.60" height="110.50" fill="#0c0c0c" />
<rect x="110.00" y="0.00" width="4.50" height="110.50" fill="#0c0c0c" />
<rect x="0.00" y="106.00" width="61.50" height="4.50" fill="#0c0c0c" />
<rect x="78.00" y="106.00" width="36.50" height="4.50" fill="#0c0c0c" />
<rect x="56.00" y="0.00" width="2.80" height="76.60" fill="#0c0c0c" />
<rect x="56.00" y="91.30" width="2.80" height="14.70" fill="#0c0c0c" />
<rect x="75.00" y="66.40" width="35.00" height="2.40" fill="#0c0c0c" />
<rect x="56.00" y="66.40" width="5.50" height="2.40" fill="#0c0c0c" />
<rect x="80.50" y="66.40" width="2.20" height="24.90" fill="#0c0c0c" />
<path d="M52.10 4.70 L52.10 18.20 A13.5 13.5 0 0 1 38.60 4.70" stroke="#111" stroke-width="0.8" fill="none" opacity="0.8"/>
<path d="M61.90 4.70 L61.90 18.70 A14.0 14.0 0 0 0 75.90 4.70" stroke="#111" stroke-width="0.8" fill="none" opacity="0.8"/>
<path d="M57.50 91.30 L42.50 91.30 A15 15 0 0 1 57.50 76.30" stroke="#111" stroke-width="0.8" fill="none" opacity="0.8"/>
<path d="M61.40 66.40 L61.40 52.40 A14 14 0 0 1 75.40 66.40" stroke="#111" stroke-width="0.8" fill="none" opacity="0.8"/>
<path d="M81.50 103.00 L81.50 89.50 A13.5 13.5 0 0 1 95.00 103.00" stroke="#111" stroke-width="0.8" fill="none" opacity="0.8"/>
<path d="M78.00 106.00 L78.00 89.60 A16.4 16.4 0 0 0 61.60 106.00" stroke="#111" stroke-width="0.8" fill="none" opacity="0.8"/>
</g>
<g transform="matrix(-1 0 0 1 853.00 159.00)">
<rect x="0.00" y="0.00" width="114.50" height="110.50" fill="#FD58FD" />
<rect x="35.50" y="-26.00" width="43.70" height="27.00" fill="#0c0c0c" />
<rect x="37.00" y="-24.50" width="40.70" height="26.50" fill="#FD58FD" />
<rect x="19.30" y="17.40" width="23.60" height="33.60" fill="rgba(0,0,0,0.04)" />
<rect x="5.20" y="14.40" width="13.50" height="33.00" fill="#FFFFFF" filter="url(#ds)" stroke="#8a8a8a" stroke-width="0.5"/>
<path d="M8 15v32M8 25.5h10.5M8 36h10.5" stroke="#c8c8c8" stroke-width="0.6" fill="none"/>
<rect x="25.20" y="24.40" width="10.60" height="16.00" fill="#FFFFFF" filter="url(#ds)" />
<rect x="48.20" y="20.30" width="7.10" height="27.70" fill="#FFFFFF" filter="url(#ds)" stroke="#8a8a8a" stroke-width="0.4"/>
<rect x="6.80" y="69.30" width="5.00" height="3.90" fill="#FFFFFF" filter="url(#ds)" rx="1.6" stroke="#bbb" stroke-width="0.3"/>
<rect x="6.80" y="83.40" width="5.00" height="3.90" fill="#FFFFFF" filter="url(#ds)" rx="1.6" stroke="#bbb" stroke-width="0.3"/>
<rect x="15.30" y="69.30" width="5.00" height="3.90" fill="#FFFFFF" filter="url(#ds)" rx="1.6" stroke="#bbb" stroke-width="0.3"/>
<rect x="15.30" y="83.40" width="5.00" height="3.90" fill="#FFFFFF" filter="url(#ds)" rx="1.6" stroke="#bbb" stroke-width="0.3"/>
<rect x="5.60" y="73.60" width="16.90" height="9.60" fill="#FFFFFF" filter="url(#ds)" stroke="#bbb" stroke-width="0.3"/>
<rect x="4.50" y="96.60" width="51.30" height="9.70" fill="#FFFFFF" filter="url(#ds)" stroke="#8a8a8a" stroke-width="0.5"/>
<path d="M11.7 96.6v9.7M26.8 96.6v9.7M34.2 96.6v9.7M45.2 96.6v9.7" stroke="#c4c4c4" stroke-width="0.5"/>
<rect x="12.6" y="97.8" width="13.2" height="7.4" fill="#ececec" stroke="#9a9a9a" stroke-width="0.4"/>
<circle cx="16.2" cy="99.9" r="1.3" fill="none" stroke="#8a8a8a" stroke-width="0.45"/>
<circle cx="21.8" cy="99.9" r="1.3" fill="none" stroke="#8a8a8a" stroke-width="0.45"/>
<circle cx="16.2" cy="103.2" r="1.3" fill="none" stroke="#8a8a8a" stroke-width="0.45"/>
<circle cx="21.8" cy="103.2" r="1.3" fill="none" stroke="#8a8a8a" stroke-width="0.45"/>
<rect x="28.4" y="98" width="4.4" height="7" fill="none" stroke="#666" stroke-width="0.5"/>
<rect x="29.6" y="102.6" width="2" height="1.8" fill="#556"/>
<circle cx="39.6" cy="101.4" r="3.1" fill="none" stroke="#4a4a4a" stroke-width="0.85"/>
<circle cx="50.4" cy="101.5" r="0.9" fill="#333"/>
<rect x="73.20" y="15.70" width="33.30" height="31.70" fill="#FFFFFF" filter="url(#ds)" />
<rect x="102.50" y="8.30" width="7.50" height="45.40" fill="#FFFFFF" filter="url(#ds)" stroke="#cfcfcf" stroke-width="0.4"/>
<rect x="58.80" y="18.00" width="6.40" height="20.80" fill="#FFFFFF" filter="url(#ds)" stroke="#8a8a8a" stroke-width="0.4"/>
<circle cx="65.50" cy="32" r="3.3" fill="#FFFFFF" filter="url(#ds)" stroke="#c0c0c0" stroke-width="0.4"/>
<rect x="82.50" y="55.40" width="25.20" height="10.40" fill="#FFFFFF" filter="url(#ds)" stroke="#8a8a8a" stroke-width="0.4"/>
<path d="M95.00 55.4v10.4M84.00 57l9 7M97.00 57l9 7" stroke="#999" stroke-width="0.4" fill="none"/>
<rect x="82.50" y="69.20" width="27.00" height="9.80" fill="#FFFFFF" filter="url(#ds)" stroke="#8a8a8a" stroke-width="0.4"/>
<circle cx="107.00" cy="86" r="3.2" fill="#FFFFFF" filter="url(#ds)" stroke="#888" stroke-width="0.5"/>
<ellipse cx="102.50" cy="97.3" rx="5.8" ry="2.6" fill="#FFFFFF" filter="url(#ds)" stroke="#888" stroke-width="0.4"/>
<rect x="0.00" y="0.00" width="8.50" height="4.70" fill="#0c0c0c" />
<rect x="8.50" y="0.00" width="25.50" height="4.70" fill="rgba(0,0,0,0.6)" />
<rect x="8.50" y="0.00" width="25.50" height="0.90" fill="#0c0c0c" />
<rect x="8.50" y="2.00" width="25.50" height="0.70" fill="#222" />
<rect x="8.50" y="3.80" width="25.50" height="0.90" fill="#0c0c0c" />
<rect x="34.00" y="0.00" width="4.80" height="4.70" fill="#0c0c0c" />
<rect x="52.10" y="0.00" width="9.80" height="4.70" fill="#0c0c0c" />
<rect x="75.50" y="0.00" width="5.20" height="4.70" fill="#0c0c0c" />
<rect x="80.70" y="0.00" width="25.80" height="4.70" fill="rgba(0,0,0,0.6)" />
<rect x="80.70" y="0.00" width="25.80" height="0.90" fill="#0c0c0c" />
<rect x="80.70" y="2.00" width="25.80" height="0.70" fill="#222" />
<rect x="80.70" y="3.80" width="25.80" height="0.90" fill="#0c0c0c" />
<rect x="106.50" y="0.00" width="8.00" height="4.70" fill="#0c0c0c" />
<rect x="0.00" y="0.00" width="4.60" height="110.50" fill="#0c0c0c" />
<rect x="110.00" y="0.00" width="4.50" height="110.50" fill="#0c0c0c" />
<rect x="0.00" y="106.00" width="61.50" height="4.50" fill="#0c0c0c" />
<rect x="78.00" y="106.00" width="36.50" height="4.50" fill="#0c0c0c" />
<rect x="56.00" y="0.00" width="2.80" height="76.60" fill="#0c0c0c" />
<rect x="56.00" y="91.30" width="2.80" height="14.70" fill="#0c0c0c" />
<rect x="75.00" y="66.40" width="35.00" height="2.40" fill="#0c0c0c" />
<rect x="56.00" y="66.40" width="5.50" height="2.40" fill="#0c0c0c" />
<rect x="80.50" y="66.40" width="2.20" height="24.90" fill="#0c0c0c" />
<path d="M52.10 4.70 L52.10 18.20 A13.5 13.5 0 0 1 38.60 4.70" stroke="#111" stroke-width="0.8" fill="none" opacity="0.8"/>
<path d="M61.90 4.70 L61.90 18.70 A14.0 14.0 0 0 0 75.90 4.70" stroke="#111" stroke-width="0.8" fill="none" opacity="0.8"/>
<path d="M57.50 91.30 L42.50 91.30 A15 15 0 0 1 57.50 76.30" stroke="#111" stroke-width="0.8" fill="none" opacity="0.8"/>
<path d="M61.40 66.40 L61.40 52.40 A14 14 0 0 1 75.40 66.40" stroke="#111" stroke-width="0.8" fill="none" opacity="0.8"/>
<path d="M81.50 103.00 L81.50 89.50 A13.5 13.5 0 0 1 95.00 103.00" stroke="#111" stroke-width="0.8" fill="none" opacity="0.8"/>
<path d="M78.00 106.00 L78.00 89.60 A16.4 16.4 0 0 0 61.60 106.00" stroke="#111" stroke-width="0.8" fill="none" opacity="0.8"/>
</g>
<g transform="matrix(1 0 0 -1 187.50 407.50)">
<rect x="0.00" y="0.00" width="114.50" height="110.50" fill="#FFC400" />
<rect x="35.50" y="-26.00" width="43.70" height="27.00" fill="#0c0c0c" />
<rect x="37.00" y="-24.50" width="40.70" height="26.50" fill="#FFC400" />
<rect x="19.30" y="17.40" width="23.60" height="33.60" fill="rgba(0,0,0,0.04)" />
<rect x="5.20" y="14.40" width="13.50" height="33.00" fill="#FFFFFF" filter="url(#ds)" stroke="#8a8a8a" stroke-width="0.5"/>
<path d="M8 15v32M8 25.5h10.5M8 36h10.5" stroke="#c8c8c8" stroke-width="0.6" fill="none"/>
<rect x="25.20" y="24.40" width="10.60" height="16.00" fill="#FFFFFF" filter="url(#ds)" />
<rect x="48.20" y="20.30" width="7.10" height="27.70" fill="#FFFFFF" filter="url(#ds)" stroke="#8a8a8a" stroke-width="0.4"/>
<rect x="6.80" y="69.30" width="5.00" height="3.90" fill="#FFFFFF" filter="url(#ds)" rx="1.6" stroke="#bbb" stroke-width="0.3"/>
<rect x="6.80" y="83.40" width="5.00" height="3.90" fill="#FFFFFF" filter="url(#ds)" rx="1.6" stroke="#bbb" stroke-width="0.3"/>
<rect x="15.30" y="69.30" width="5.00" height="3.90" fill="#FFFFFF" filter="url(#ds)" rx="1.6" stroke="#bbb" stroke-width="0.3"/>
<rect x="15.30" y="83.40" width="5.00" height="3.90" fill="#FFFFFF" filter="url(#ds)" rx="1.6" stroke="#bbb" stroke-width="0.3"/>
<rect x="5.60" y="73.60" width="16.90" height="9.60" fill="#FFFFFF" filter="url(#ds)" stroke="#bbb" stroke-width="0.3"/>
<rect x="4.50" y="96.60" width="51.30" height="9.70" fill="#FFFFFF" filter="url(#ds)" stroke="#8a8a8a" stroke-width="0.5"/>
<path d="M11.7 96.6v9.7M26.8 96.6v9.7M34.2 96.6v9.7M45.2 96.6v9.7" stroke="#c4c4c4" stroke-width="0.5"/>
<rect x="12.6" y="97.8" width="13.2" height="7.4" fill="#ececec" stroke="#9a9a9a" stroke-width="0.4"/>
<circle cx="16.2" cy="99.9" r="1.3" fill="none" stroke="#8a8a8a" stroke-width="0.45"/>
<circle cx="21.8" cy="99.9" r="1.3" fill="none" stroke="#8a8a8a" stroke-width="0.45"/>
<circle cx="16.2" cy="103.2" r="1.3" fill="none" stroke="#8a8a8a" stroke-width="0.45"/>
<circle cx="21.8" cy="103.2" r="1.3" fill="none" stroke="#8a8a8a" stroke-width="0.45"/>
<rect x="28.4" y="98" width="4.4" height="7" fill="none" stroke="#666" stroke-width="0.5"/>
<rect x="29.6" y="102.6" width="2" height="1.8" fill="#556"/>
<circle cx="39.6" cy="101.4" r="3.1" fill="none" stroke="#4a4a4a" stroke-width="0.85"/>
<circle cx="50.4" cy="101.5" r="0.9" fill="#333"/>
<rect x="73.20" y="15.70" width="33.30" height="31.70" fill="#FFFFFF" filter="url(#ds)" />
<rect x="102.50" y="8.30" width="7.50" height="45.40" fill="#FFFFFF" filter="url(#ds)" stroke="#cfcfcf" stroke-width="0.4"/>
<rect x="58.80" y="18.00" width="6.40" height="20.80" fill="#FFFFFF" filter="url(#ds)" stroke="#8a8a8a" stroke-width="0.4"/>
<circle cx="65.50" cy="32" r="3.3" fill="#FFFFFF" filter="url(#ds)" stroke="#c0c0c0" stroke-width="0.4"/>
<rect x="82.50" y="55.40" width="25.20" height="10.40" fill="#FFFFFF" filter="url(#ds)" stroke="#8a8a8a" stroke-width="0.4"/>
<path d="M95.00 55.4v10.4M84.00 57l9 7M97.00 57l9 7" stroke="#999" stroke-width="0.4" fill="none"/>
<rect x="82.50" y="69.20" width="27.00" height="9.80" fill="#FFFFFF" filter="url(#ds)" stroke="#8a8a8a" stroke-width="0.4"/>
<circle cx="107.00" cy="86" r="3.2" fill="#FFFFFF" filter="url(#ds)" stroke="#888" stroke-width="0.5"/>
<ellipse cx="102.50" cy="97.3" rx="5.8" ry="2.6" fill="#FFFFFF" filter="url(#ds)" stroke="#888" stroke-width="0.4"/>
<rect x="0.00" y="0.00" width="8.50" height="4.70" fill="#0c0c0c" />
<rect x="8.50" y="0.00" width="25.50" height="4.70" fill="rgba(0,0,0,0.6)" />
<rect x="8.50" y="0.00" width="25.50" height="0.90" fill="#0c0c0c" />
<rect x="8.50" y="2.00" width="25.50" height="0.70" fill="#222" />
<rect x="8.50" y="3.80" width="25.50" height="0.90" fill="#0c0c0c" />
<rect x="34.00" y="0.00" width="4.80" height="4.70" fill="#0c0c0c" />
<rect x="52.10" y="0.00" width="9.80" height="4.70" fill="#0c0c0c" />
<rect x="75.50" y="0.00" width="5.20" height="4.70" fill="#0c0c0c" />
<rect x="80.70" y="0.00" width="25.80" height="4.70" fill="rgba(0,0,0,0.6)" />
<rect x="80.70" y="0.00" width="25.80" height="0.90" fill="#0c0c0c" />
<rect x="80.70" y="2.00" width="25.80" height="0.70" fill="#222" />
<rect x="80.70" y="3.80" width="25.80" height="0.90" fill="#0c0c0c" />
<rect x="106.50" y="0.00" width="8.00" height="4.70" fill="#0c0c0c" />
<rect x="0.00" y="0.00" width="4.60" height="110.50" fill="#0c0c0c" />
<rect x="110.00" y="0.00" width="4.50" height="110.50" fill="#0c0c0c" />
<rect x="0.00" y="106.00" width="61.50" height="4.50" fill="#0c0c0c" />
<rect x="78.00" y="106.00" width="36.50" height="4.50" fill="#0c0c0c" />
<rect x="56.00" y="0.00" width="2.80" height="76.60" fill="#0c0c0c" />
<rect x="56.00" y="91.30" width="2.80" height="14.70" fill="#0c0c0c" />
<rect x="75.00" y="66.40" width="35.00" height="2.40" fill="#0c0c0c" />
<rect x="56.00" y="66.40" width="5.50" height="2.40" fill="#0c0c0c" />
<rect x="80.50" y="66.40" width="2.20" height="24.90" fill="#0c0c0c" />
<path d="M52.10 4.70 L52.10 18.20 A13.5 13.5 0 0 1 38.60 4.70" stroke="#111" stroke-width="0.8" fill="none" opacity="0.8"/>
<path d="M61.90 4.70 L61.90 18.70 A14.0 14.0 0 0 0 75.90 4.70" stroke="#111" stroke-width="0.8" fill="none" opacity="0.8"/>
<path d="M57.50 91.30 L42.50 91.30 A15 15 0 0 1 57.50 76.30" stroke="#111" stroke-width="0.8" fill="none" opacity="0.8"/>
<path d="M61.40 66.40 L61.40 52.40 A14 14 0 0 1 75.40 66.40" stroke="#111" stroke-width="0.8" fill="none" opacity="0.8"/>
<path d="M81.50 103.00 L81.50 89.50 A13.5 13.5 0 0 1 95.00 103.00" stroke="#111" stroke-width="0.8" fill="none" opacity="0.8"/>
<path d="M78.00 106.00 L78.00 89.60 A16.4 16.4 0 0 0 61.60 106.00" stroke="#111" stroke-width="0.8" fill="none" opacity="0.8"/>
</g>
<g transform="matrix(1 0 0 -1 298.00 407.50)">
<rect x="0.00" y="0.00" width="114.50" height="110.50" fill="#FE775C" />
<rect x="35.50" y="-26.00" width="43.70" height="27.00" fill="#0c0c0c" />
<rect x="37.00" y="-24.50" width="40.70" height="26.50" fill="#FE775C" />
<rect x="19.30" y="17.40" width="23.60" height="33.60" fill="rgba(0,0,0,0.04)" />
<rect x="5.20" y="14.40" width="13.50" height="33.00" fill="#FFFFFF" filter="url(#ds)" stroke="#8a8a8a" stroke-width="0.5"/>
<path d="M8 15v32M8 25.5h10.5M8 36h10.5" stroke="#c8c8c8" stroke-width="0.6" fill="none"/>
<rect x="25.20" y="24.40" width="10.60" height="16.00" fill="#FFFFFF" filter="url(#ds)" />
<rect x="48.20" y="20.30" width="7.10" height="27.70" fill="#FFFFFF" filter="url(#ds)" stroke="#8a8a8a" stroke-width="0.4"/>
<rect x="6.80" y="69.30" width="5.00" height="3.90" fill="#FFFFFF" filter="url(#ds)" rx="1.6" stroke="#bbb" stroke-width="0.3"/>
<rect x="6.80" y="83.40" width="5.00" height="3.90" fill="#FFFFFF" filter="url(#ds)" rx="1.6" stroke="#bbb" stroke-width="0.3"/>
<rect x="15.30" y="69.30" width="5.00" height="3.90" fill="#FFFFFF" filter="url(#ds)" rx="1.6" stroke="#bbb" stroke-width="0.3"/>
<rect x="15.30" y="83.40" width="5.00" height="3.90" fill="#FFFFFF" filter="url(#ds)" rx="1.6" stroke="#bbb" stroke-width="0.3"/>
<rect x="5.60" y="73.60" width="16.90" height="9.60" fill="#FFFFFF" filter="url(#ds)" stroke="#bbb" stroke-width="0.3"/>
<rect x="4.50" y="96.60" width="51.30" height="9.70" fill="#FFFFFF" filter="url(#ds)" stroke="#8a8a8a" stroke-width="0.5"/>
<path d="M11.7 96.6v9.7M26.8 96.6v9.7M34.2 96.6v9.7M45.2 96.6v9.7" stroke="#c4c4c4" stroke-width="0.5"/>
<rect x="12.6" y="97.8" width="13.2" height="7.4" fill="#ececec" stroke="#9a9a9a" stroke-width="0.4"/>
<circle cx="16.2" cy="99.9" r="1.3" fill="none" stroke="#8a8a8a" stroke-width="0.45"/>
<circle cx="21.8" cy="99.9" r="1.3" fill="none" stroke="#8a8a8a" stroke-width="0.45"/>
<circle cx="16.2" cy="103.2" r="1.3" fill="none" stroke="#8a8a8a" stroke-width="0.45"/>
<circle cx="21.8" cy="103.2" r="1.3" fill="none" stroke="#8a8a8a" stroke-width="0.45"/>
<rect x="28.4" y="98" width="4.4" height="7" fill="none" stroke="#666" stroke-width="0.5"/>
<rect x="29.6" y="102.6" width="2" height="1.8" fill="#556"/>
<circle cx="39.6" cy="101.4" r="3.1" fill="none" stroke="#4a4a4a" stroke-width="0.85"/>
<circle cx="50.4" cy="101.5" r="0.9" fill="#333"/>
<rect x="73.20" y="15.70" width="33.30" height="31.70" fill="#FFFFFF" filter="url(#ds)" />
<rect x="102.50" y="8.30" width="7.50" height="45.40" fill="#FFFFFF" filter="url(#ds)" stroke="#cfcfcf" stroke-width="0.4"/>
<rect x="58.80" y="18.00" width="6.40" height="20.80" fill="#FFFFFF" filter="url(#ds)" stroke="#8a8a8a" stroke-width="0.4"/>
<circle cx="65.50" cy="32" r="3.3" fill="#FFFFFF" filter="url(#ds)" stroke="#c0c0c0" stroke-width="0.4"/>
<rect x="82.50" y="55.40" width="25.20" height="10.40" fill="#FFFFFF" filter="url(#ds)" stroke="#8a8a8a" stroke-width="0.4"/>
<path d="M95.00 55.4v10.4M84.00 57l9 7M97.00 57l9 7" stroke="#999" stroke-width="0.4" fill="none"/>
<rect x="82.50" y="69.20" width="27.00" height="9.80" fill="#FFFFFF" filter="url(#ds)" stroke="#8a8a8a" stroke-width="0.4"/>
<circle cx="107.00" cy="86" r="3.2" fill="#FFFFFF" filter="url(#ds)" stroke="#888" stroke-width="0.5"/>
<ellipse cx="102.50" cy="97.3" rx="5.8" ry="2.6" fill="#FFFFFF" filter="url(#ds)" stroke="#888" stroke-width="0.4"/>
<rect x="0.00" y="0.00" width="8.50" height="4.70" fill="#0c0c0c" />
<rect x="8.50" y="0.00" width="25.50" height="4.70" fill="rgba(0,0,0,0.6)" />
<rect x="8.50" y="0.00" width="25.50" height="0.90" fill="#0c0c0c" />
<rect x="8.50" y="2.00" width="25.50" height="0.70" fill="#222" />
<rect x="8.50" y="3.80" width="25.50" height="0.90" fill="#0c0c0c" />
<rect x="34.00" y="0.00" width="4.80" height="4.70" fill="#0c0c0c" />
<rect x="52.10" y="0.00" width="9.80" height="4.70" fill="#0c0c0c" />
<rect x="75.50" y="0.00" width="5.20" height="4.70" fill="#0c0c0c" />
<rect x="80.70" y="0.00" width="25.80" height="4.70" fill="rgba(0,0,0,0.6)" />
<rect x="80.70" y="0.00" width="25.80" height="0.90" fill="#0c0c0c" />
<rect x="80.70" y="2.00" width="25.80" height="0.70" fill="#222" />
<rect x="80.70" y="3.80" width="25.80" height="0.90" fill="#0c0c0c" />
<rect x="106.50" y="0.00" width="8.00" height="4.70" fill="#0c0c0c" />
<rect x="0.00" y="0.00" width="4.60" height="110.50" fill="#0c0c0c" />
<rect x="110.00" y="0.00" width="4.50" height="110.50" fill="#0c0c0c" />
<rect x="0.00" y="106.00" width="61.50" height="4.50" fill="#0c0c0c" />
<rect x="78.00" y="106.00" width="36.50" height="4.50" fill="#0c0c0c" />
<rect x="56.00" y="0.00" width="2.80" height="76.60" fill="#0c0c0c" />
<rect x="56.00" y="91.30" width="2.80" height="14.70" fill="#0c0c0c" />
<rect x="75.00" y="66.40" width="35.00" height="2.40" fill="#0c0c0c" />
<rect x="56.00" y="66.40" width="5.50" height="2.40" fill="#0c0c0c" />
<rect x="80.50" y="66.40" width="2.20" height="24.90" fill="#0c0c0c" />
<path d="M52.10 4.70 L52.10 18.20 A13.5 13.5 0 0 1 38.60 4.70" stroke="#111" stroke-width="0.8" fill="none" opacity="0.8"/>
<path d="M61.90 4.70 L61.90 18.70 A14.0 14.0 0 0 0 75.90 4.70" stroke="#111" stroke-width="0.8" fill="none" opacity="0.8"/>
<path d="M57.50 91.30 L42.50 91.30 A15 15 0 0 1 57.50 76.30" stroke="#111" stroke-width="0.8" fill="none" opacity="0.8"/>
<path d="M61.40 66.40 L61.40 52.40 A14 14 0 0 1 75.40 66.40" stroke="#111" stroke-width="0.8" fill="none" opacity="0.8"/>
<path d="M81.50 103.00 L81.50 89.50 A13.5 13.5 0 0 1 95.00 103.00" stroke="#111" stroke-width="0.8" fill="none" opacity="0.8"/>
<path d="M78.00 106.00 L78.00 89.60 A16.4 16.4 0 0 0 61.60 106.00" stroke="#111" stroke-width="0.8" fill="none" opacity="0.8"/>
</g>
<g transform="matrix(-1 0 0 -1 522.50 407.50)">
<rect x="0.00" y="0.00" width="114.50" height="110.50" fill="#FFF400" />
<rect x="35.50" y="-26.00" width="43.70" height="27.00" fill="#0c0c0c" />
<rect x="37.00" y="-24.50" width="40.70" height="26.50" fill="#FFF400" />
<rect x="19.30" y="17.40" width="23.60" height="33.60" fill="rgba(0,0,0,0.04)" />
<rect x="5.20" y="14.40" width="13.50" height="33.00" fill="#FFFFFF" filter="url(#ds)" stroke="#8a8a8a" stroke-width="0.5"/>
<path d="M8 15v32M8 25.5h10.5M8 36h10.5" stroke="#c8c8c8" stroke-width="0.6" fill="none"/>
<rect x="25.20" y="24.40" width="10.60" height="16.00" fill="#FFFFFF" filter="url(#ds)" />
<rect x="48.20" y="20.30" width="7.10" height="27.70" fill="#FFFFFF" filter="url(#ds)" stroke="#8a8a8a" stroke-width="0.4"/>
<rect x="6.80" y="69.30" width="5.00" height="3.90" fill="#FFFFFF" filter="url(#ds)" rx="1.6" stroke="#bbb" stroke-width="0.3"/>
<rect x="6.80" y="83.40" width="5.00" height="3.90" fill="#FFFFFF" filter="url(#ds)" rx="1.6" stroke="#bbb" stroke-width="0.3"/>
<rect x="15.30" y="69.30" width="5.00" height="3.90" fill="#FFFFFF" filter="url(#ds)" rx="1.6" stroke="#bbb" stroke-width="0.3"/>
<rect x="15.30" y="83.40" width="5.00" height="3.90" fill="#FFFFFF" filter="url(#ds)" rx="1.6" stroke="#bbb" stroke-width="0.3"/>
<rect x="5.60" y="73.60" width="16.90" height="9.60" fill="#FFFFFF" filter="url(#ds)" stroke="#bbb" stroke-width="0.3"/>
<rect x="4.50" y="96.60" width="51.30" height="9.70" fill="#FFFFFF" filter="url(#ds)" stroke="#8a8a8a" stroke-width="0.5"/>
<path d="M11.7 96.6v9.7M26.8 96.6v9.7M34.2 96.6v9.7M45.2 96.6v9.7" stroke="#c4c4c4" stroke-width="0.5"/>
<rect x="12.6" y="97.8" width="13.2" height="7.4" fill="#ececec" stroke="#9a9a9a" stroke-width="0.4"/>
<circle cx="16.2" cy="99.9" r="1.3" fill="none" stroke="#8a8a8a" stroke-width="0.45"/>
<circle cx="21.8" cy="99.9" r="1.3" fill="none" stroke="#8a8a8a" stroke-width="0.45"/>
<circle cx="16.2" cy="103.2" r="1.3" fill="none" stroke="#8a8a8a" stroke-width="0.45"/>
<circle cx="21.8" cy="103.2" r="1.3" fill="none" stroke="#8a8a8a" stroke-width="0.45"/>
<rect x="28.4" y="98" width="4.4" height="7" fill="none" stroke="#666" stroke-width="0.5"/>
<rect x="29.6" y="102.6" width="2" height="1.8" fill="#556"/>
<circle cx="39.6" cy="101.4" r="3.1" fill="none" stroke="#4a4a4a" stroke-width="0.85"/>
<circle cx="50.4" cy="101.5" r="0.9" fill="#333"/>
<rect x="73.20" y="15.70" width="33.30" height="31.70" fill="#FFFFFF" filter="url(#ds)" />
<rect x="102.50" y="8.30" width="7.50" height="45.40" fill="#FFFFFF" filter="url(#ds)" stroke="#cfcfcf" stroke-width="0.4"/>
<rect x="58.80" y="18.00" width="6.40" height="20.80" fill="#FFFFFF" filter="url(#ds)" stroke="#8a8a8a" stroke-width="0.4"/>
<circle cx="65.50" cy="32" r="3.3" fill="#FFFFFF" filter="url(#ds)" stroke="#c0c0c0" stroke-width="0.4"/>
<rect x="82.50" y="55.40" width="25.20" height="10.40" fill="#FFFFFF" filter="url(#ds)" stroke="#8a8a8a" stroke-width="0.4"/>
<path d="M95.00 55.4v10.4M84.00 57l9 7M97.00 57l9 7" stroke="#999" stroke-width="0.4" fill="none"/>
<rect x="82.50" y="69.20" width="27.00" height="9.80" fill="#FFFFFF" filter="url(#ds)" stroke="#8a8a8a" stroke-width="0.4"/>
<circle cx="107.00" cy="86" r="3.2" fill="#FFFFFF" filter="url(#ds)" stroke="#888" stroke-width="0.5"/>
<ellipse cx="102.50" cy="97.3" rx="5.8" ry="2.6" fill="#FFFFFF" filter="url(#ds)" stroke="#888" stroke-width="0.4"/>
<rect x="0.00" y="0.00" width="8.50" height="4.70" fill="#0c0c0c" />
<rect x="8.50" y="0.00" width="25.50" height="4.70" fill="rgba(0,0,0,0.6)" />
<rect x="8.50" y="0.00" width="25.50" height="0.90" fill="#0c0c0c" />
<rect x="8.50" y="2.00" width="25.50" height="0.70" fill="#222" />
<rect x="8.50" y="3.80" width="25.50" height="0.90" fill="#0c0c0c" />
<rect x="34.00" y="0.00" width="4.80" height="4.70" fill="#0c0c0c" />
<rect x="52.10" y="0.00" width="9.80" height="4.70" fill="#0c0c0c" />
<rect x="75.50" y="0.00" width="5.20" height="4.70" fill="#0c0c0c" />
<rect x="80.70" y="0.00" width="25.80" height="4.70" fill="rgba(0,0,0,0.6)" />
<rect x="80.70" y="0.00" width="25.80" height="0.90" fill="#0c0c0c" />
<rect x="80.70" y="2.00" width="25.80" height="0.70" fill="#222" />
<rect x="80.70" y="3.80" width="25.80" height="0.90" fill="#0c0c0c" />
<rect x="106.50" y="0.00" width="8.00" height="4.70" fill="#0c0c0c" />
<rect x="0.00" y="0.00" width="4.60" height="110.50" fill="#0c0c0c" />
<rect x="110.00" y="0.00" width="4.50" height="110.50" fill="#0c0c0c" />
<rect x="0.00" y="106.00" width="61.50" height="4.50" fill="#0c0c0c" />
<rect x="78.00" y="106.00" width="36.50" height="4.50" fill="#0c0c0c" />
<rect x="56.00" y="0.00" width="2.80" height="76.60" fill="#0c0c0c" />
<rect x="56.00" y="91.30" width="2.80" height="14.70" fill="#0c0c0c" />
<rect x="75.00" y="66.40" width="35.00" height="2.40" fill="#0c0c0c" />
<rect x="56.00" y="66.40" width="5.50" height="2.40" fill="#0c0c0c" />
<rect x="80.50" y="66.40" width="2.20" height="24.90" fill="#0c0c0c" />
<path d="M52.10 4.70 L52.10 18.20 A13.5 13.5 0 0 1 38.60 4.70" stroke="#111" stroke-width="0.8" fill="none" opacity="0.8"/>
<path d="M61.90 4.70 L61.90 18.70 A14.0 14.0 0 0 0 75.90 4.70" stroke="#111" stroke-width="0.8" fill="none" opacity="0.8"/>
<path d="M57.50 91.30 L42.50 91.30 A15 15 0 0 1 57.50 76.30" stroke="#111" stroke-width="0.8" fill="none" opacity="0.8"/>
<path d="M61.40 66.40 L61.40 52.40 A14 14 0 0 1 75.40 66.40" stroke="#111" stroke-width="0.8" fill="none" opacity="0.8"/>
<path d="M81.50 103.00 L81.50 89.50 A13.5 13.5 0 0 1 95.00 103.00" stroke="#111" stroke-width="0.8" fill="none" opacity="0.8"/>
<path d="M78.00 106.00 L78.00 89.60 A16.4 16.4 0 0 0 61.60 106.00" stroke="#111" stroke-width="0.8" fill="none" opacity="0.8"/>
</g>
<g transform="matrix(-1 0 0 -1 633.00 407.50)">
<rect x="0.00" y="0.00" width="114.50" height="110.50" fill="#FFC400" />
<rect x="35.50" y="-26.00" width="43.70" height="27.00" fill="#0c0c0c" />
<rect x="37.00" y="-24.50" width="40.70" height="26.50" fill="#FFC400" />
<rect x="19.30" y="17.40" width="23.60" height="33.60" fill="rgba(0,0,0,0.04)" />
<rect x="5.20" y="14.40" width="13.50" height="33.00" fill="#FFFFFF" filter="url(#ds)" stroke="#8a8a8a" stroke-width="0.5"/>
<path d="M8 15v32M8 25.5h10.5M8 36h10.5" stroke="#c8c8c8" stroke-width="0.6" fill="none"/>
<rect x="25.20" y="24.40" width="10.60" height="16.00" fill="#FFFFFF" filter="url(#ds)" />
<rect x="48.20" y="20.30" width="7.10" height="27.70" fill="#FFFFFF" filter="url(#ds)" stroke="#8a8a8a" stroke-width="0.4"/>
<rect x="6.80" y="69.30" width="5.00" height="3.90" fill="#FFFFFF" filter="url(#ds)" rx="1.6" stroke="#bbb" stroke-width="0.3"/>
<rect x="6.80" y="83.40" width="5.00" height="3.90" fill="#FFFFFF" filter="url(#ds)" rx="1.6" stroke="#bbb" stroke-width="0.3"/>
<rect x="15.30" y="69.30" width="5.00" height="3.90" fill="#FFFFFF" filter="url(#ds)" rx="1.6" stroke="#bbb" stroke-width="0.3"/>
<rect x="15.30" y="83.40" width="5.00" height="3.90" fill="#FFFFFF" filter="url(#ds)" rx="1.6" stroke="#bbb" stroke-width="0.3"/>
<rect x="5.60" y="73.60" width="16.90" height="9.60" fill="#FFFFFF" filter="url(#ds)" stroke="#bbb" stroke-width="0.3"/>
<rect x="4.50" y="96.60" width="51.30" height="9.70" fill="#FFFFFF" filter="url(#ds)" stroke="#8a8a8a" stroke-width="0.5"/>
<path d="M11.7 96.6v9.7M26.8 96.6v9.7M34.2 96.6v9.7M45.2 96.6v9.7" stroke="#c4c4c4" stroke-width="0.5"/>
<rect x="12.6" y="97.8" width="13.2" height="7.4" fill="#ececec" stroke="#9a9a9a" stroke-width="0.4"/>
<circle cx="16.2" cy="99.9" r="1.3" fill="none" stroke="#8a8a8a" stroke-width="0.45"/>
<circle cx="21.8" cy="99.9" r="1.3" fill="none" stroke="#8a8a8a" stroke-width="0.45"/>
<circle cx="16.2" cy="103.2" r="1.3" fill="none" stroke="#8a8a8a" stroke-width="0.45"/>
<circle cx="21.8" cy="103.2" r="1.3" fill="none" stroke="#8a8a8a" stroke-width="0.45"/>
<rect x="28.4" y="98" width="4.4" height="7" fill="none" stroke="#666" stroke-width="0.5"/>
<rect x="29.6" y="102.6" width="2" height="1.8" fill="#556"/>
<circle cx="39.6" cy="101.4" r="3.1" fill="none" stroke="#4a4a4a" stroke-width="0.85"/>
<circle cx="50.4" cy="101.5" r="0.9" fill="#333"/>
<rect x="73.20" y="15.70" width="33.30" height="31.70" fill="#FFFFFF" filter="url(#ds)" />
<rect x="102.50" y="8.30" width="7.50" height="45.40" fill="#FFFFFF" filter="url(#ds)" stroke="#cfcfcf" stroke-width="0.4"/>
<rect x="58.80" y="18.00" width="6.40" height="20.80" fill="#FFFFFF" filter="url(#ds)" stroke="#8a8a8a" stroke-width="0.4"/>
<circle cx="65.50" cy="32" r="3.3" fill="#FFFFFF" filter="url(#ds)" stroke="#c0c0c0" stroke-width="0.4"/>
<rect x="82.50" y="55.40" width="25.20" height="10.40" fill="#FFFFFF" filter="url(#ds)" stroke="#8a8a8a" stroke-width="0.4"/>
<path d="M95.00 55.4v10.4M84.00 57l9 7M97.00 57l9 7" stroke="#999" stroke-width="0.4" fill="none"/>
<rect x="82.50" y="69.20" width="27.00" height="9.80" fill="#FFFFFF" filter="url(#ds)" stroke="#8a8a8a" stroke-width="0.4"/>
<circle cx="107.00" cy="86" r="3.2" fill="#FFFFFF" filter="url(#ds)" stroke="#888" stroke-width="0.5"/>
<ellipse cx="102.50" cy="97.3" rx="5.8" ry="2.6" fill="#FFFFFF" filter="url(#ds)" stroke="#888" stroke-width="0.4"/>
<rect x="0.00" y="0.00" width="8.50" height="4.70" fill="#0c0c0c" />
<rect x="8.50" y="0.00" width="25.50" height="4.70" fill="rgba(0,0,0,0.6)" />
<rect x="8.50" y="0.00" width="25.50" height="0.90" fill="#0c0c0c" />
<rect x="8.50" y="2.00" width="25.50" height="0.70" fill="#222" />
<rect x="8.50" y="3.80" width="25.50" height="0.90" fill="#0c0c0c" />
<rect x="34.00" y="0.00" width="4.80" height="4.70" fill="#0c0c0c" />
<rect x="52.10" y="0.00" width="9.80" height="4.70" fill="#0c0c0c" />
<rect x="75.50" y="0.00" width="5.20" height="4.70" fill="#0c0c0c" />
<rect x="80.70" y="0.00" width="25.80" height="4.70" fill="rgba(0,0,0,0.6)" />
<rect x="80.70" y="0.00" width="25.80" height="0.90" fill="#0c0c0c" />
<rect x="80.70" y="2.00" width="25.80" height="0.70" fill="#222" />
<rect x="80.70" y="3.80" width="25.80" height="0.90" fill="#0c0c0c" />
<rect x="106.50" y="0.00" width="8.00" height="4.70" fill="#0c0c0c" />
<rect x="0.00" y="0.00" width="4.60" height="110.50" fill="#0c0c0c" />
<rect x="110.00" y="0.00" width="4.50" height="110.50" fill="#0c0c0c" />
<rect x="0.00" y="106.00" width="61.50" height="4.50" fill="#0c0c0c" />
<rect x="78.00" y="106.00" width="36.50" height="4.50" fill="#0c0c0c" />
<rect x="56.00" y="0.00" width="2.80" height="76.60" fill="#0c0c0c" />
<rect x="56.00" y="91.30" width="2.80" height="14.70" fill="#0c0c0c" />
<rect x="75.00" y="66.40" width="35.00" height="2.40" fill="#0c0c0c" />
<rect x="56.00" y="66.40" width="5.50" height="2.40" fill="#0c0c0c" />
<rect x="80.50" y="66.40" width="2.20" height="24.90" fill="#0c0c0c" />
<path d="M52.10 4.70 L52.10 18.20 A13.5 13.5 0 0 1 38.60 4.70" stroke="#111" stroke-width="0.8" fill="none" opacity="0.8"/>
<path d="M61.90 4.70 L61.90 18.70 A14.0 14.0 0 0 0 75.90 4.70" stroke="#111" stroke-width="0.8" fill="none" opacity="0.8"/>
<path d="M57.50 91.30 L42.50 91.30 A15 15 0 0 1 57.50 76.30" stroke="#111" stroke-width="0.8" fill="none" opacity="0.8"/>
<path d="M61.40 66.40 L61.40 52.40 A14 14 0 0 1 75.40 66.40" stroke="#111" stroke-width="0.8" fill="none" opacity="0.8"/>
<path d="M81.50 103.00 L81.50 89.50 A13.5 13.5 0 0 1 95.00 103.00" stroke="#111" stroke-width="0.8" fill="none" opacity="0.8"/>
<path d="M78.00 106.00 L78.00 89.60 A16.4 16.4 0 0 0 61.60 106.00" stroke="#111" stroke-width="0.8" fill="none" opacity="0.8"/>
</g>
<g transform="matrix(1 0 0 -1 628.50 407.50)">
<rect x="0.00" y="0.00" width="114.50" height="110.50" fill="#FE775C" />
<rect x="35.50" y="-26.00" width="43.70" height="27.00" fill="#0c0c0c" />
<rect x="37.00" y="-24.50" width="40.70" height="26.50" fill="#FE775C" />
<rect x="19.30" y="17.40" width="23.60" height="33.60" fill="rgba(0,0,0,0.04)" />
<rect x="5.20" y="14.40" width="13.50" height="33.00" fill="#FFFFFF" filter="url(#ds)" stroke="#8a8a8a" stroke-width="0.5"/>
<path d="M8 15v32M8 25.5h10.5M8 36h10.5" stroke="#c8c8c8" stroke-width="0.6" fill="none"/>
<rect x="25.20" y="24.40" width="10.60" height="16.00" fill="#FFFFFF" filter="url(#ds)" />
<rect x="48.20" y="20.30" width="7.10" height="27.70" fill="#FFFFFF" filter="url(#ds)" stroke="#8a8a8a" stroke-width="0.4"/>
<rect x="6.80" y="69.30" width="5.00" height="3.90" fill="#FFFFFF" filter="url(#ds)" rx="1.6" stroke="#bbb" stroke-width="0.3"/>
<rect x="6.80" y="83.40" width="5.00" height="3.90" fill="#FFFFFF" filter="url(#ds)" rx="1.6" stroke="#bbb" stroke-width="0.3"/>
<rect x="15.30" y="69.30" width="5.00" height="3.90" fill="#FFFFFF" filter="url(#ds)" rx="1.6" stroke="#bbb" stroke-width="0.3"/>
<rect x="15.30" y="83.40" width="5.00" height="3.90" fill="#FFFFFF" filter="url(#ds)" rx="1.6" stroke="#bbb" stroke-width="0.3"/>
<rect x="5.60" y="73.60" width="16.90" height="9.60" fill="#FFFFFF" filter="url(#ds)" stroke="#bbb" stroke-width="0.3"/>
<rect x="4.50" y="96.60" width="51.30" height="9.70" fill="#FFFFFF" filter="url(#ds)" stroke="#8a8a8a" stroke-width="0.5"/>
<path d="M11.7 96.6v9.7M26.8 96.6v9.7M34.2 96.6v9.7M45.2 96.6v9.7" stroke="#c4c4c4" stroke-width="0.5"/>
<rect x="12.6" y="97.8" width="13.2" height="7.4" fill="#ececec" stroke="#9a9a9a" stroke-width="0.4"/>
<circle cx="16.2" cy="99.9" r="1.3" fill="none" stroke="#8a8a8a" stroke-width="0.45"/>
<circle cx="21.8" cy="99.9" r="1.3" fill="none" stroke="#8a8a8a" stroke-width="0.45"/>
<circle cx="16.2" cy="103.2" r="1.3" fill="none" stroke="#8a8a8a" stroke-width="0.45"/>
<circle cx="21.8" cy="103.2" r="1.3" fill="none" stroke="#8a8a8a" stroke-width="0.45"/>
<rect x="28.4" y="98" width="4.4" height="7" fill="none" stroke="#666" stroke-width="0.5"/>
<rect x="29.6" y="102.6" width="2" height="1.8" fill="#556"/>
<circle cx="39.6" cy="101.4" r="3.1" fill="none" stroke="#4a4a4a" stroke-width="0.85"/>
<circle cx="50.4" cy="101.5" r="0.9" fill="#333"/>
<rect x="73.20" y="15.70" width="33.30" height="31.70" fill="#FFFFFF" filter="url(#ds)" />
<rect x="102.50" y="8.30" width="7.50" height="45.40" fill="#FFFFFF" filter="url(#ds)" stroke="#cfcfcf" stroke-width="0.4"/>
<rect x="58.80" y="18.00" width="6.40" height="20.80" fill="#FFFFFF" filter="url(#ds)" stroke="#8a8a8a" stroke-width="0.4"/>
<circle cx="65.50" cy="32" r="3.3" fill="#FFFFFF" filter="url(#ds)" stroke="#c0c0c0" stroke-width="0.4"/>
<rect x="82.50" y="55.40" width="25.20" height="10.40" fill="#FFFFFF" filter="url(#ds)" stroke="#8a8a8a" stroke-width="0.4"/>
<path d="M95.00 55.4v10.4M84.00 57l9 7M97.00 57l9 7" stroke="#999" stroke-width="0.4" fill="none"/>
<rect x="82.50" y="69.20" width="27.00" height="9.80" fill="#FFFFFF" filter="url(#ds)" stroke="#8a8a8a" stroke-width="0.4"/>
<circle cx="107.00" cy="86" r="3.2" fill="#FFFFFF" filter="url(#ds)" stroke="#888" stroke-width="0.5"/>
<ellipse cx="102.50" cy="97.3" rx="5.8" ry="2.6" fill="#FFFFFF" filter="url(#ds)" stroke="#888" stroke-width="0.4"/>
<rect x="0.00" y="0.00" width="8.50" height="4.70" fill="#0c0c0c" />
<rect x="8.50" y="0.00" width="25.50" height="4.70" fill="rgba(0,0,0,0.6)" />
<rect x="8.50" y="0.00" width="25.50" height="0.90" fill="#0c0c0c" />
<rect x="8.50" y="2.00" width="25.50" height="0.70" fill="#222" />
<rect x="8.50" y="3.80" width="25.50" height="0.90" fill="#0c0c0c" />
<rect x="34.00" y="0.00" width="4.80" height="4.70" fill="#0c0c0c" />
<rect x="52.10" y="0.00" width="9.80" height="4.70" fill="#0c0c0c" />
<rect x="75.50" y="0.00" width="5.20" height="4.70" fill="#0c0c0c" />
<rect x="80.70" y="0.00" width="25.80" height="4.70" fill="rgba(0,0,0,0.6)" />
<rect x="80.70" y="0.00" width="25.80" height="0.90" fill="#0c0c0c" />
<rect x="80.70" y="2.00" width="25.80" height="0.70" fill="#222" />
<rect x="80.70" y="3.80" width="25.80" height="0.90" fill="#0c0c0c" />
<rect x="106.50" y="0.00" width="8.00" height="4.70" fill="#0c0c0c" />
<rect x="0.00" y="0.00" width="4.60" height="110.50" fill="#0c0c0c" />
<rect x="110.00" y="0.00" width="4.50" height="110.50" fill="#0c0c0c" />
<rect x="0.00" y="106.00" width="61.50" height="4.50" fill="#0c0c0c" />
<rect x="78.00" y="106.00" width="36.50" height="4.50" fill="#0c0c0c" />
<rect x="56.00" y="0.00" width="2.80" height="76.60" fill="#0c0c0c" />
<rect x="56.00" y="91.30" width="2.80" height="14.70" fill="#0c0c0c" />
<rect x="75.00" y="66.40" width="35.00" height="2.40" fill="#0c0c0c" />
<rect x="56.00" y="66.40" width="5.50" height="2.40" fill="#0c0c0c" />
<rect x="80.50" y="66.40" width="2.20" height="24.90" fill="#0c0c0c" />
<path d="M52.10 4.70 L52.10 18.20 A13.5 13.5 0 0 1 38.60 4.70" stroke="#111" stroke-width="0.8" fill="none" opacity="0.8"/>
<path d="M61.90 4.70 L61.90 18.70 A14.0 14.0 0 0 0 75.90 4.70" stroke="#111" stroke-width="0.8" fill="none" opacity="0.8"/>
<path d="M57.50 91.30 L42.50 91.30 A15 15 0 0 1 57.50 76.30" stroke="#111" stroke-width="0.8" fill="none" opacity="0.8"/>
<path d="M61.40 66.40 L61.40 52.40 A14 14 0 0 1 75.40 66.40" stroke="#111" stroke-width="0.8" fill="none" opacity="0.8"/>
<path d="M81.50 103.00 L81.50 89.50 A13.5 13.5 0 0 1 95.00 103.00" stroke="#111" stroke-width="0.8" fill="none" opacity="0.8"/>
<path d="M78.00 106.00 L78.00 89.60 A16.4 16.4 0 0 0 61.60 106.00" stroke="#111" stroke-width="0.8" fill="none" opacity="0.8"/>
</g>
<g transform="matrix(-1 0 0 -1 853.00 407.50)">
<rect x="0.00" y="0.00" width="114.50" height="110.50" fill="#FFF400" />
<rect x="35.50" y="-26.00" width="43.70" height="27.00" fill="#0c0c0c" />
<rect x="37.00" y="-24.50" width="40.70" height="26.50" fill="#FFF400" />
<rect x="19.30" y="17.40" width="23.60" height="33.60" fill="rgba(0,0,0,0.04)" />
<rect x="5.20" y="14.40" width="13.50" height="33.00" fill="#FFFFFF" filter="url(#ds)" stroke="#8a8a8a" stroke-width="0.5"/>
<path d="M8 15v32M8 25.5h10.5M8 36h10.5" stroke="#c8c8c8" stroke-width="0.6" fill="none"/>
<rect x="25.20" y="24.40" width="10.60" height="16.00" fill="#FFFFFF" filter="url(#ds)" />
<rect x="48.20" y="20.30" width="7.10" height="27.70" fill="#FFFFFF" filter="url(#ds)" stroke="#8a8a8a" stroke-width="0.4"/>
<rect x="6.80" y="69.30" width="5.00" height="3.90" fill="#FFFFFF" filter="url(#ds)" rx="1.6" stroke="#bbb" stroke-width="0.3"/>
<rect x="6.80" y="83.40" width="5.00" height="3.90" fill="#FFFFFF" filter="url(#ds)" rx="1.6" stroke="#bbb" stroke-width="0.3"/>
<rect x="15.30" y="69.30" width="5.00" height="3.90" fill="#FFFFFF" filter="url(#ds)" rx="1.6" stroke="#bbb" stroke-width="0.3"/>
<rect x="15.30" y="83.40" width="5.00" height="3.90" fill="#FFFFFF" filter="url(#ds)" rx="1.6" stroke="#bbb" stroke-width="0.3"/>
<rect x="5.60" y="73.60" width="16.90" height="9.60" fill="#FFFFFF" filter="url(#ds)" stroke="#bbb" stroke-width="0.3"/>
<rect x="4.50" y="96.60" width="51.30" height="9.70" fill="#FFFFFF" filter="url(#ds)" stroke="#8a8a8a" stroke-width="0.5"/>
<path d="M11.7 96.6v9.7M26.8 96.6v9.7M34.2 96.6v9.7M45.2 96.6v9.7" stroke="#c4c4c4" stroke-width="0.5"/>
<rect x="12.6" y="97.8" width="13.2" height="7.4" fill="#ececec" stroke="#9a9a9a" stroke-width="0.4"/>
<circle cx="16.2" cy="99.9" r="1.3" fill="none" stroke="#8a8a8a" stroke-width="0.45"/>
<circle cx="21.8" cy="99.9" r="1.3" fill="none" stroke="#8a8a8a" stroke-width="0.45"/>
<circle cx="16.2" cy="103.2" r="1.3" fill="none" stroke="#8a8a8a" stroke-width="0.45"/>
<circle cx="21.8" cy="103.2" r="1.3" fill="none" stroke="#8a8a8a" stroke-width="0.45"/>
<rect x="28.4" y="98" width="4.4" height="7" fill="none" stroke="#666" stroke-width="0.5"/>
<rect x="29.6" y="102.6" width="2" height="1.8" fill="#556"/>
<circle cx="39.6" cy="101.4" r="3.1" fill="none" stroke="#4a4a4a" stroke-width="0.85"/>
<circle cx="50.4" cy="101.5" r="0.9" fill="#333"/>
<rect x="73.20" y="15.70" width="33.30" height="31.70" fill="#FFFFFF" filter="url(#ds)" />
<rect x="102.50" y="8.30" width="7.50" height="45.40" fill="#FFFFFF" filter="url(#ds)" stroke="#cfcfcf" stroke-width="0.4"/>
<rect x="58.80" y="18.00" width="6.40" height="20.80" fill="#FFFFFF" filter="url(#ds)" stroke="#8a8a8a" stroke-width="0.4"/>
<circle cx="65.50" cy="32" r="3.3" fill="#FFFFFF" filter="url(#ds)" stroke="#c0c0c0" stroke-width="0.4"/>
<rect x="82.50" y="55.40" width="25.20" height="10.40" fill="#FFFFFF" filter="url(#ds)" stroke="#8a8a8a" stroke-width="0.4"/>
<path d="M95.00 55.4v10.4M84.00 57l9 7M97.00 57l9 7" stroke="#999" stroke-width="0.4" fill="none"/>
<rect x="82.50" y="69.20" width="27.00" height="9.80" fill="#FFFFFF" filter="url(#ds)" stroke="#8a8a8a" stroke-width="0.4"/>
<circle cx="107.00" cy="86" r="3.2" fill="#FFFFFF" filter="url(#ds)" stroke="#888" stroke-width="0.5"/>
<ellipse cx="102.50" cy="97.3" rx="5.8" ry="2.6" fill="#FFFFFF" filter="url(#ds)" stroke="#888" stroke-width="0.4"/>
<rect x="0.00" y="0.00" width="8.50" height="4.70" fill="#0c0c0c" />
<rect x="8.50" y="0.00" width="25.50" height="4.70" fill="rgba(0,0,0,0.6)" />
<rect x="8.50" y="0.00" width="25.50" height="0.90" fill="#0c0c0c" />
<rect x="8.50" y="2.00" width="25.50" height="0.70" fill="#222" />
<rect x="8.50" y="3.80" width="25.50" height="0.90" fill="#0c0c0c" />
<rect x="34.00" y="0.00" width="4.80" height="4.70" fill="#0c0c0c" />
<rect x="52.10" y="0.00" width="9.80" height="4.70" fill="#0c0c0c" />
<rect x="75.50" y="0.00" width="5.20" height="4.70" fill="#0c0c0c" />
<rect x="80.70" y="0.00" width="25.80" height="4.70" fill="rgba(0,0,0,0.6)" />
<rect x="80.70" y="0.00" width="25.80" height="0.90" fill="#0c0c0c" />
<rect x="80.70" y="2.00" width="25.80" height="0.70" fill="#222" />
<rect x="80.70" y="3.80" width="25.80" height="0.90" fill="#0c0c0c" />
<rect x="106.50" y="0.00" width="8.00" height="4.70" fill="#0c0c0c" />
<rect x="0.00" y="0.00" width="4.60" height="110.50" fill="#0c0c0c" />
<rect x="110.00" y="0.00" width="4.50" height="110.50" fill="#0c0c0c" />
<rect x="0.00" y="106.00" width="61.50" height="4.50" fill="#0c0c0c" />
<rect x="78.00" y="106.00" width="36.50" height="4.50" fill="#0c0c0c" />
<rect x="56.00" y="0.00" width="2.80" height="76.60" fill="#0c0c0c" />
<rect x="56.00" y="91.30" width="2.80" height="14.70" fill="#0c0c0c" />
<rect x="75.00" y="66.40" width="35.00" height="2.40" fill="#0c0c0c" />
<rect x="56.00" y="66.40" width="5.50" height="2.40" fill="#0c0c0c" />
<rect x="80.50" y="66.40" width="2.20" height="24.90" fill="#0c0c0c" />
<path d="M52.10 4.70 L52.10 18.20 A13.5 13.5 0 0 1 38.60 4.70" stroke="#111" stroke-width="0.8" fill="none" opacity="0.8"/>
<path d="M61.90 4.70 L61.90 18.70 A14.0 14.0 0 0 0 75.90 4.70" stroke="#111" stroke-width="0.8" fill="none" opacity="0.8"/>
<path d="M57.50 91.30 L42.50 91.30 A15 15 0 0 1 57.50 76.30" stroke="#111" stroke-width="0.8" fill="none" opacity="0.8"/>
<path d="M61.40 66.40 L61.40 52.40 A14 14 0 0 1 75.40 66.40" stroke="#111" stroke-width="0.8" fill="none" opacity="0.8"/>
<path d="M81.50 103.00 L81.50 89.50 A13.5 13.5 0 0 1 95.00 103.00" stroke="#111" stroke-width="0.8" fill="none" opacity="0.8"/>
<path d="M78.00 106.00 L78.00 89.60 A16.4 16.4 0 0 0 61.60 106.00" stroke="#111" stroke-width="0.8" fill="none" opacity="0.8"/>
</g>
<rect x="430.30" y="162.00" width="88.20" height="110.00" fill="#C5FDD4" />
<rect x="430.00" y="163.50" width="34.00" height="55.10" fill="#A9DDB4" />
<rect x="436.00" y="165.50" width="26.00" height="25.00" fill="none" stroke="#2c4a30" stroke-width="0.8"/>
<path d="M438 167.5 L460 188.5 M460 167.5 L438 188.5" stroke="#2c4a30" stroke-width="0.8"/>
<path d="M438 167.5H460V188.5H438Z" fill="none" stroke="#2c4a30" stroke-width="0.5"/>
<rect x="431.50" y="174.00" width="1.50" height="8.00" fill="#4a6a4a" />
<rect x="436.00" y="193.00" width="26.00" height="23.50" fill="none" stroke="#2c4a30" stroke-width="0.8"/>
<path d="M438 195 L460 214.5 M460 195 L438 214.5" stroke="#2c4a30" stroke-width="0.8"/>
<path d="M438 195H460V214.5H438Z" fill="none" stroke="#2c4a30" stroke-width="0.5"/>
<rect x="431.50" y="200.75" width="1.50" height="8.00" fill="#4a6a4a" />
<path d="M465.5 164V218" stroke="#8fb99a" stroke-width="0.6" stroke-dasharray="2 1.5"/>
<rect x="430.00" y="218.60" width="62.50" height="3.90" fill="#0c0c0c" />
<rect x="430.00" y="222.50" width="20.00" height="43.30" fill="#C5FDD4" />
<path d="M450.00 222.5V265.5" stroke="#3e6a48" stroke-width="0.7"/>
<path d="M453.25 222.5V265.5" stroke="#3e6a48" stroke-width="0.7"/>
<path d="M456.50 222.5V265.5" stroke="#3e6a48" stroke-width="0.7"/>
<path d="M459.75 222.5V265.5" stroke="#3e6a48" stroke-width="0.7"/>
<path d="M463.00 222.5V265.5" stroke="#3e6a48" stroke-width="0.7"/>
<path d="M466.25 222.5V265.5" stroke="#3e6a48" stroke-width="0.7"/>
<path d="M469.50 222.5V265.5" stroke="#3e6a48" stroke-width="0.7"/>
<path d="M472.75 222.5V265.5" stroke="#3e6a48" stroke-width="0.7"/>
<path d="M476.00 222.5V265.5" stroke="#3e6a48" stroke-width="0.7"/>
<path d="M479.25 222.5V265.5" stroke="#3e6a48" stroke-width="0.7"/>
<path d="M482.50 222.5V265.5" stroke="#3e6a48" stroke-width="0.7"/>
<path d="M485.75 222.5V265.5" stroke="#3e6a48" stroke-width="0.7"/>
<path d="M489.00 222.5V265.5" stroke="#3e6a48" stroke-width="0.7"/>
<path d="M450 243.5H492.5M450 245H492.5" stroke="#3e6a48" stroke-width="0.6"/>
<rect x="489.50" y="222.50" width="3.00" height="43.30" fill="#3e6a48" />
<rect x="425.00" y="265.80" width="67.50" height="4.40" fill="#0c0c0c" />
<rect x="425.00" y="159.00" width="42.00" height="4.50" fill="#0c0c0c" />
<rect x="467.00" y="159.00" width="52.00" height="1.20" fill="#5f6f62" />
<rect x="467.00" y="162.20" width="52.00" height="1.10" fill="#5f6f62" />
<rect x="467.00" y="160.20" width="52.00" height="2.00" fill="#b9d8c0" />
<rect x="425.00" y="159.00" width="5.30" height="111.20" fill="#0c0c0c" />
<path d="M492.20 278.60 A16.8 16.8 0 0 1 509.00 295.40" stroke="#111" stroke-width="0.8" fill="none" opacity="0.85"/>
<path d="M518.50 270.40 A17 17 0 0 0 535.50 287.40" stroke="#111" stroke-width="0.8" fill="none" opacity="0.85"/>
<rect x="534.90" y="287.40" width="1.40" height="9.10" fill="#1a1a1a" />
<rect x="491.40" y="265.00" width="1.60" height="14.00" fill="#1a1a1a" />
<path d="M849 159H964V232H884V270H849Z" fill="#FB9A48"/>
<path d="M882 232H964V337H882Z" fill="#6FBA33"/>
<path d="M849 296H884V336H964V407H849Z" fill="#788FF9"/>
<rect x="898.90" y="133.00" width="43.70" height="28.00" fill="#0c0c0c" />
<rect x="900.40" y="134.50" width="40.70" height="26.50" fill="#FB9A48" />
<rect x="962.00" y="261.50" width="28.50" height="42.50" fill="#0c0c0c" />
<rect x="962.00" y="263.00" width="27.00" height="39.50" fill="#6FBA33" />
<rect x="962.00" y="349.80" width="28.80" height="42.70" fill="#0c0c0c" />
<rect x="962.00" y="351.30" width="27.30" height="39.70" fill="#788FF9" />
<rect x="854.80" y="164.60" width="25.70" height="10.40" fill="#FFFFFF" filter="url(#ds)" stroke="#8a8a8a" stroke-width="0.4"/>
<circle cx="856.5" cy="183" r="3.2" fill="#FFFFFF" filter="url(#ds)" stroke="#888" stroke-width="0.5"/>
<ellipse cx="859" cy="194" rx="5.5" ry="2.6" fill="#FFFFFF" filter="url(#ds)" stroke="#888" stroke-width="0.4"/>
<rect x="884.50" y="164.00" width="8.70" height="43.00" fill="#FFFFFF" filter="url(#ds)" stroke="#8a8a8a" stroke-width="0.5"/>
<circle cx="888.8" cy="180" r="2.5" fill="none" stroke="#8a8a8a" stroke-width="0.6"/>
<rect x="886" y="198" width="5.5" height="7.5" fill="none" stroke="#aaa" stroke-width="0.5"/>
<rect x="896.00" y="180.00" width="26.00" height="20.50" fill="rgba(0,0,0,0.06)" />
<rect x="899.00" y="183.60" width="5.10" height="5.60" fill="#FFFFFF" filter="url(#ds)" rx="1.2" stroke="#bbb" stroke-width="0.3"/>
<rect x="913.90" y="183.60" width="5.10" height="5.60" fill="#FFFFFF" filter="url(#ds)" rx="1.2" stroke="#bbb" stroke-width="0.3"/>
<rect x="899.00" y="191.30" width="5.10" height="5.60" fill="#FFFFFF" filter="url(#ds)" rx="1.2" stroke="#bbb" stroke-width="0.3"/>
<rect x="913.90" y="191.30" width="5.10" height="5.60" fill="#FFFFFF" filter="url(#ds)" rx="1.2" stroke="#bbb" stroke-width="0.3"/>
<rect x="903.60" y="181.50" width="10.80" height="17.50" fill="#FFFFFF" filter="url(#ds)" stroke="#bbb" stroke-width="0.3"/>
<rect x="926.00" y="190.00" width="28.00" height="21.00" fill="rgba(0,0,0,0.06)" />
<rect x="932.00" y="194.80" width="16.30" height="11.10" fill="#FFFFFF" filter="url(#ds)" />
<rect x="922.00" y="212.00" width="36.70" height="13.70" fill="#FFFFFF" filter="url(#ds)" stroke="#8a8a8a" stroke-width="0.5"/>
<path d="M934.2 212.5v12.7M946.4 212.5v12.7M922.5 214.5h36" stroke="#c8c8c8" stroke-width="0.6" fill="none"/>
<rect x="931.00" y="164.00" width="29.00" height="8.50" fill="#FFFFFF" filter="url(#ds)" stroke="#8a8a8a" stroke-width="0.4"/>
<rect x="854.80" y="207.60" width="9.90" height="15.60" fill="#FFFFFF" filter="url(#ds)" stroke="#8a8a8a" stroke-width="0.4"/>
<rect x="887.00" y="232.00" width="26.00" height="9.70" fill="#FFFFFF" filter="url(#ds)" stroke="#8a8a8a" stroke-width="0.4"/>
<circle cx="889.5" cy="248.5" r="3.2" fill="#FFFFFF" filter="url(#ds)" stroke="#888" stroke-width="0.5"/>
<ellipse cx="892" cy="260" rx="5.5" ry="2.6" fill="#FFFFFF" filter="url(#ds)" stroke="#888" stroke-width="0.4"/>
<rect x="916.70" y="232.00" width="9.80" height="38.00" fill="#FFFFFF" filter="url(#ds)" stroke="#8a8a8a" stroke-width="0.5"/>
<circle cx="921.6" cy="247" r="2.5" fill="none" stroke="#8a8a8a" stroke-width="0.6"/>
<rect x="918.5" y="259" width="6" height="9" fill="none" stroke="#aaa" stroke-width="0.5"/>
<rect x="948.80" y="232.00" width="10.90" height="25.80" fill="#FFFFFF" filter="url(#ds)" stroke="#8a8a8a" stroke-width="0.4"/>
<rect x="937.90" y="277.50" width="25.20" height="22.50" fill="rgba(0,0,0,0.06)" />
<rect x="940.90" y="281.34" width="5.10" height="6.24" fill="#FFFFFF" filter="url(#ds)" rx="1.2" stroke="#bbb" stroke-width="0.3"/>
<rect x="955.00" y="281.34" width="5.10" height="6.24" fill="#FFFFFF" filter="url(#ds)" rx="1.2" stroke="#bbb" stroke-width="0.3"/>
<rect x="940.90" y="289.92" width="5.10" height="6.24" fill="#FFFFFF" filter="url(#ds)" rx="1.2" stroke="#bbb" stroke-width="0.3"/>
<rect x="955.00" y="289.92" width="5.10" height="6.24" fill="#FFFFFF" filter="url(#ds)" rx="1.2" stroke="#bbb" stroke-width="0.3"/>
<rect x="945.50" y="279.00" width="10.00" height="19.50" fill="#FFFFFF" filter="url(#ds)" stroke="#bbb" stroke-width="0.3"/>
<rect x="887.20" y="296.80" width="13.80" height="36.90" fill="#FFFFFF" filter="url(#ds)" stroke="#8a8a8a" stroke-width="0.5"/>
<path d="M890 297v36M890 309h11M890 321h11" stroke="#c8c8c8" stroke-width="0.6" fill="none"/>
<rect x="904.00" y="303.00" width="19.00" height="27.00" fill="rgba(0,0,0,0.06)" />
<rect x="907.90" y="307.20" width="11.50" height="16.10" fill="#FFFFFF" filter="url(#ds)" />
<rect x="951.60" y="303.70" width="8.10" height="27.70" fill="#FFFFFF" filter="url(#ds)" stroke="#8a8a8a" stroke-width="0.4"/>
<rect x="855.00" y="332.50" width="10.30" height="25.30" fill="#FFFFFF" filter="url(#ds)" stroke="#8a8a8a" stroke-width="0.4"/>
<path d="M855 345h10.3M856.5 334l7 9M856.5 347l7 9" stroke="#999" stroke-width="0.4" fill="none"/>
<rect x="920.60" y="339.40" width="28.70" height="9.20" fill="#FFFFFF" filter="url(#ds)" stroke="#8a8a8a" stroke-width="0.4"/>
<rect x="883.70" y="359.00" width="10.30" height="44.00" fill="#FFFFFF" filter="url(#ds)" stroke="#8a8a8a" stroke-width="0.5"/>
<circle cx="888.8" cy="385" r="2.5" fill="none" stroke="#8a8a8a" stroke-width="0.6"/>
<rect x="885.5" y="362" width="6" height="9" fill="none" stroke="#aaa" stroke-width="0.5"/>
<rect x="893.90" y="366.00" width="25.70" height="21.50" fill="rgba(0,0,0,0.06)" />
<rect x="896.90" y="369.72" width="5.10" height="5.92" fill="#FFFFFF" filter="url(#ds)" rx="1.2" stroke="#bbb" stroke-width="0.3"/>
<rect x="911.50" y="369.72" width="5.10" height="5.92" fill="#FFFFFF" filter="url(#ds)" rx="1.2" stroke="#bbb" stroke-width="0.3"/>
<rect x="896.90" y="377.86" width="5.10" height="5.92" fill="#FFFFFF" filter="url(#ds)" rx="1.2" stroke="#bbb" stroke-width="0.3"/>
<rect x="911.50" y="377.86" width="5.10" height="5.92" fill="#FFFFFF" filter="url(#ds)" rx="1.2" stroke="#bbb" stroke-width="0.3"/>
<rect x="901.50" y="367.50" width="10.50" height="18.50" fill="#FFFFFF" filter="url(#ds)" stroke="#bbb" stroke-width="0.3"/>
<rect x="923.00" y="366.00" width="27.00" height="22.00" fill="rgba(0,0,0,0.06)" />
<rect x="927.50" y="370.50" width="17.20" height="11.50" fill="#FFFFFF" filter="url(#ds)" />
<rect x="918.30" y="388.90" width="35.70" height="13.80" fill="#FFFFFF" filter="url(#ds)" stroke="#8a8a8a" stroke-width="0.5"/>
<path d="M930 389v13.5M942 389v13.5M918.8 391h35" stroke="#c8c8c8" stroke-width="0.6" fill="none"/>
<rect x="855.00" y="391.20" width="25.00" height="11.30" fill="#FFFFFF" filter="url(#ds)" stroke="#8a8a8a" stroke-width="0.4"/>
<circle cx="857" cy="383" r="3.2" fill="#FFFFFF" filter="url(#ds)" stroke="#888" stroke-width="0.5"/>
<ellipse cx="859" cy="372" rx="5.5" ry="2.6" fill="#FFFFFF" filter="url(#ds)" stroke="#888" stroke-width="0.4"/>
<rect x="849.00" y="159.00" width="54.00" height="4.90" fill="#0c0c0c" />
<rect x="939.00" y="159.00" width="25.30" height="4.90" fill="#0c0c0c" />
<rect x="903.00" y="159.00" width="36.00" height="1.60" fill="#3a3a3a" />
<rect x="959.80" y="159.00" width="4.50" height="107.00" fill="#0c0c0c" />
<rect x="959.80" y="299.50" width="4.50" height="54.50" fill="#0c0c0c" />
<rect x="959.80" y="388.00" width="4.50" height="19.00" fill="#0c0c0c" />
<rect x="849.20" y="159.00" width="4.60" height="111.00" fill="#0c0c0c" />
<rect x="849.20" y="296.00" width="4.60" height="111.00" fill="#0c0c0c" />
<rect x="849.00" y="401.80" width="115.30" height="4.80" fill="#0c0c0c" />
<rect x="880.50" y="163.90" width="3.70" height="43.70" fill="#0c0c0c" />
<rect x="853.00" y="205.00" width="15.00" height="2.60" fill="#0c0c0c" />
<rect x="881.50" y="226.40" width="82.50" height="5.50" fill="#0c0c0c" />
<rect x="881.50" y="226.40" width="4.00" height="45.10" fill="#0c0c0c" />
<rect x="881.50" y="295.50" width="4.00" height="42.80" fill="#0c0c0c" />
<rect x="913.00" y="231.90" width="2.40" height="39.10" fill="#0c0c0c" />
<rect x="885.50" y="268.60" width="14.50" height="2.80" fill="#0c0c0c" />
<rect x="881.50" y="333.70" width="82.50" height="4.60" fill="#0c0c0c" />
<rect x="849.20" y="296.00" width="7.80" height="4.50" fill="#0c0c0c" />
<rect x="853.00" y="358.50" width="13.00" height="2.80" fill="#0c0c0c" />
<rect x="880.30" y="358.50" width="3.40" height="43.50" fill="#0c0c0c" />
<path d="M903.00 163.90 L903.00 176.90 A13 13 0 0 0 916.00 163.90" stroke="#111" stroke-width="0.8" fill="none" opacity="0.85"/>
<path d="M868.00 207.60 L868.00 194.60 A13 13 0 0 1 881.00 207.60" stroke="#111" stroke-width="0.8" fill="none" opacity="0.85"/>
<path d="M857.00 270.00 L857.00 255.00 A15 15 0 0 1 872.00 270.00" stroke="#111" stroke-width="0.8" fill="none" opacity="0.85"/>
<path d="M885.50 271.50 L902.50 271.50 A17 17 0 0 1 885.50 288.50" stroke="#111" stroke-width="0.8" fill="none" opacity="0.85"/>
<path d="M900.00 271.40 L900.00 258.40 A13 13 0 0 1 913.00 271.40" stroke="#111" stroke-width="0.8" fill="none" opacity="0.85"/>
<path d="M959.80 266.00 L947.80 266.00 A12 12 0 0 0 959.80 278.00" stroke="#111" stroke-width="0.8" fill="none" opacity="0.85"/>
<path d="M857.00 298.00 L857.00 315.00 A17 17 0 0 0 874.00 298.00" stroke="#111" stroke-width="0.8" fill="none" opacity="0.85"/>
<path d="M866.00 361.30 L880.00 361.30 A14 14 0 0 1 866.00 375.30" stroke="#111" stroke-width="0.8" fill="none" opacity="0.85"/>
<path d="M959.80 354.00 L947.80 354.00 A12 12 0 0 0 959.80 366.00" stroke="#111" stroke-width="0.8" fill="none" opacity="0.85"/>
<rect x="157.50" y="268.00" width="5.30" height="30.50" fill="#0c0c0c" />
<path d="M849.3 466V408.9H964.7V466" fill="none" stroke="#222" stroke-width="0.8"/>
<path d="M850.8 466V410.4H963.2V466" stroke="#777" stroke-width="0.5" fill="none"/>
<path d="M853.7 463V413H912.5V463" fill="none" stroke="#222" stroke-width="1.1"/>
<path d="M855.2 463V414.5H911V463" fill="none" stroke="#888" stroke-width="0.5"/>
<path d="M915.9 463V413H961V463" fill="none" stroke="#222" stroke-width="1.1"/>
<path d="M917.4 463V414.5H959.5V463" fill="none" stroke="#888" stroke-width="0.5"/>
<path d="M855 424.5H911" stroke="#999" stroke-width="0.5"/>
<rect x="868.00" y="414.50" width="9.00" height="9.50" fill="none" stroke="#888" stroke-width="0.5"/>
<rect x="883.50" y="414.50" width="4.00" height="9.50" fill="none" stroke="#333" stroke-width="0.6"/>
<circle cx="895.5" cy="419" r="2.7" fill="none" stroke="#555" stroke-width="0.6"/>
<rect x="901.00" y="414.50" width="10.00" height="9.50" fill="none" stroke="#aaa" stroke-width="0.5"/>
<circle cx="906" cy="419" r="0.7" fill="#333"/>
<rect x="880.00" y="435.50" width="17.50" height="11.50" fill="none" stroke="#aaa" stroke-width="0.5"/>
<rect x="882.00" y="431.50" width="5.00" height="4.00" fill="none" stroke="#aaa" stroke-width="0.5" rx="1.2"/>
<rect x="882.00" y="447.00" width="5.00" height="4.00" fill="none" stroke="#aaa" stroke-width="0.5" rx="1.2"/>
<rect x="890.00" y="431.50" width="5.00" height="4.00" fill="none" stroke="#aaa" stroke-width="0.5" rx="1.2"/>
<rect x="890.00" y="447.00" width="5.00" height="4.00" fill="none" stroke="#aaa" stroke-width="0.5" rx="1.2"/>
<rect x="855.50" y="445.00" width="7.00" height="17.00" fill="none" stroke="#aaa" stroke-width="0.5"/>
<path d="M917.4 434.2H959" stroke="#222" stroke-width="1"/>
<path d="M917.4 439.6H959" stroke="#222" stroke-width="1"/>
<path d="M917.4 444.6H959" stroke="#222" stroke-width="1"/>
<path d="M917.4 449.9H959" stroke="#222" stroke-width="1"/>
<path d="M917.4 455.3H959" stroke="#222" stroke-width="1"/>
<path d="M917.4 460.7H959" stroke="#222" stroke-width="1"/>
<path d="M937.5 434V463M939.5 434V463" stroke="#222" stroke-width="0.8"/>
<rect x="0.00" y="0.00" width="1024.00" height="38.70" fill="#D3A98E" />
<rect x="0.00" y="43.30" width="1024.00" height="4.50" fill="#D3A98E" />
<text x="17.5" y="28.2" font-size="25.5" font-style="italic" font-weight="bold" fill="#fff" textLength="116.0" lengthAdjust="spacingAndGlyphs"><tspan font-size="30">E</tspan>mperium</text>
<text x="143" y="28.2" font-size="25.5" font-style="italic" font-weight="bold" fill="#fff" textLength="7.3" lengthAdjust="spacingAndGlyphs">-</text>
<text x="158.5" y="28.2" font-size="25.5" font-style="italic" font-weight="bold" fill="#fff" textLength="103.1" lengthAdjust="spacingAndGlyphs"><tspan font-size="30">B</tspan>uilding</text>
<text x="268.9" y="28.2" font-size="25.5" font-style="italic" font-weight="bold" fill="#fff" textLength="22.0" lengthAdjust="spacingAndGlyphs"><tspan font-size="30">A</tspan></text>
<text x="299.7" y="28.2" font-size="25.5" font-style="italic" font-weight="bold" fill="#fff" textLength="8.8" lengthAdjust="spacingAndGlyphs">-</text>
<text x="315.8" y="28.2" font-size="25.5" font-style="italic" font-weight="bold" fill="#fff" textLength="55.7" lengthAdjust="spacingAndGlyphs"><tspan font-size="30">S</tspan>veti</text>
<text x="375.9" y="28.2" font-size="25.5" font-style="italic" font-weight="bold" fill="#fff" textLength="54.1" lengthAdjust="spacingAndGlyphs"><tspan font-size="30">V</tspan>las</text>
<text x="912.6" y="27.7" font-size="19" fill="#1a120c" stroke="#1a120c" stroke-width="0.2" textLength="74.6" lengthAdjust="spacingAndGlyphs">FLOOR 5</text>
<path d="M466.5 73.2L497.3 89.3L473.8 89.3Z" fill="#fff" stroke="#111" stroke-width="1.1"/>
<path d="M466.5 104.8L497.3 89.3L473.8 89.3Z" fill="#111" stroke="#111" stroke-width="1.1"/>
<text x="0" y="0" font-size="9" font-weight="bold" fill="#111" font-family="Liberation Sans, sans-serif" transform="translate(500,89.3) rotate(90)" text-anchor="middle" dy="-0.5">N</text>
<rect x="65.9" y="70.5" width="59.6" height="41.1" rx="8" fill="#F8953F"/><text x="69.0" y="85.1" font-size="13.9" fill="#141414" stroke="#141414" stroke-width="0.2" textLength="53.4" lengthAdjust="spacingAndGlyphs">Ap.514A</text><text x="71.7" y="100.0" font-size="13.9" fill="#141414" stroke="#141414" stroke-width="0.2" textLength="48" lengthAdjust="spacingAndGlyphs">57,87 m<tspan font-size="7.8" dy="-5.4">2</tspan></text>
<rect x="211.2" y="70.5" width="60.3" height="41.1" rx="8" fill="#6BB631"/><text x="214.7" y="85.3" font-size="13.9" fill="#141414" stroke="#141414" stroke-width="0.2" textLength="53.4" lengthAdjust="spacingAndGlyphs">Ap.515A</text><text x="217.3" y="100.0" font-size="13.9" fill="#141414" stroke="#141414" stroke-width="0.2" textLength="48" lengthAdjust="spacingAndGlyphs">51,94 m<tspan font-size="7.8" dy="-5.4">2</tspan></text>
<rect x="339.9" y="70.8" width="60.7" height="41.2" rx="8" fill="#14BDF6"/><text x="343.6" y="85.8" font-size="13.9" fill="#141414" stroke="#141414" stroke-width="0.2" textLength="53.4" lengthAdjust="spacingAndGlyphs">Ap.516A</text><text x="346.2" y="99.7" font-size="13.9" fill="#141414" stroke="#141414" stroke-width="0.2" textLength="48" lengthAdjust="spacingAndGlyphs">59,41 m<tspan font-size="7.8" dy="-5.4">2</tspan></text>
<rect x="545.6" y="70.8" width="59.2" height="41.2" rx="8" fill="#6BB631"/><text x="548.5" y="85.4" font-size="13.9" fill="#141414" stroke="#141414" stroke-width="0.2" textLength="53.4" lengthAdjust="spacingAndGlyphs">Ap.501A</text><text x="551.2" y="99.7" font-size="13.9" fill="#141414" stroke="#141414" stroke-width="0.2" textLength="48" lengthAdjust="spacingAndGlyphs">51,94 m<tspan font-size="7.8" dy="-5.4">2</tspan></text>
<rect x="664.5" y="70.6" width="60.5" height="40.9" rx="8" fill="#14BDF6"/><text x="668.0" y="86.2" font-size="13.9" fill="#141414" stroke="#141414" stroke-width="0.2" textLength="53.4" lengthAdjust="spacingAndGlyphs">Ap.502A</text><text x="670.8" y="100.4" font-size="13.9" fill="#141414" stroke="#141414" stroke-width="0.2" textLength="48" lengthAdjust="spacingAndGlyphs">51,94 m<tspan font-size="7.8" dy="-5.4">2</tspan></text>
<rect x="780.2" y="71" width="59.9" height="40.5" rx="8" fill="#F95CF5"/><text x="783.5" y="88.2" font-size="13.9" fill="#141414" stroke="#141414" stroke-width="0.2" textLength="53.4" lengthAdjust="spacingAndGlyphs">Ap.503A</text><text x="786.2" y="102.7" font-size="13.9" fill="#141414" stroke="#141414" stroke-width="0.2" textLength="48" lengthAdjust="spacingAndGlyphs">51,94 m<tspan font-size="7.8" dy="-5.4">2</tspan></text>
<rect x="886.2" y="70.6" width="59.8" height="40.9" rx="8" fill="#F8953F"/><text x="889.4" y="85.0" font-size="13.9" fill="#141414" stroke="#141414" stroke-width="0.2" textLength="53.4" lengthAdjust="spacingAndGlyphs">Ap.504A</text><text x="892.1" y="98.6" font-size="13.9" fill="#141414" stroke="#141414" stroke-width="0.2" textLength="48" lengthAdjust="spacingAndGlyphs">40,57 m<tspan font-size="7.8" dy="-5.4">2</tspan></text>
<rect x="93.3" y="469.2" width="60.5" height="41.0" rx="8" fill="#7A8BF0"/><text x="96.9" y="484.2" font-size="13.9" fill="#141414" stroke="#141414" stroke-width="0.2" textLength="53.4" lengthAdjust="spacingAndGlyphs">Ap.513A</text><text x="99.6" y="498.8" font-size="13.9" fill="#141414" stroke="#141414" stroke-width="0.2" textLength="48" lengthAdjust="spacingAndGlyphs">57,87 m<tspan font-size="7.8" dy="-5.4">2</tspan></text>
<rect x="214.3" y="469.8" width="59.5" height="40.4" rx="8" fill="#F8BC2A"/><text x="217.4" y="487.1" font-size="13.9" fill="#141414" stroke="#141414" stroke-width="0.2" textLength="53.4" lengthAdjust="spacingAndGlyphs">Ap.512A</text><text x="220.1" y="501.6" font-size="13.9" fill="#141414" stroke="#141414" stroke-width="0.2" textLength="48" lengthAdjust="spacingAndGlyphs">51,94 m<tspan font-size="7.8" dy="-5.4">2</tspan></text>
<rect x="325.8" y="469.6" width="60.2" height="40.9" rx="8" fill="#F8735C"/><text x="329.2" y="487.0" font-size="13.9" fill="#141414" stroke="#141414" stroke-width="0.2" textLength="53.4" lengthAdjust="spacingAndGlyphs">Ap.511A</text><text x="331.9" y="501.6" font-size="13.9" fill="#141414" stroke="#141414" stroke-width="0.2" textLength="48" lengthAdjust="spacingAndGlyphs">51,94 m<tspan font-size="7.8" dy="-5.4">2</tspan></text>
<rect x="426.5" y="469.3" width="59.4" height="40.7" rx="8" fill="#FCF01C"/><text x="429.5" y="483.2" font-size="13.9" fill="#141414" stroke="#141414" stroke-width="0.2" textLength="53.4" lengthAdjust="spacingAndGlyphs">Ap.510A</text><text x="432.2" y="498.1" font-size="13.9" fill="#141414" stroke="#141414" stroke-width="0.2" textLength="48" lengthAdjust="spacingAndGlyphs">51,94 m<tspan font-size="7.8" dy="-5.4">2</tspan></text>
<rect x="552" y="469.3" width="60.4" height="41.2" rx="8" fill="#F8BC2A"/><text x="555.5" y="486.9" font-size="13.9" fill="#141414" stroke="#141414" stroke-width="0.2" textLength="53.4" lengthAdjust="spacingAndGlyphs">Ap.509A</text><text x="558.2" y="501.5" font-size="13.9" fill="#141414" stroke="#141414" stroke-width="0.2" textLength="48" lengthAdjust="spacingAndGlyphs">51,94 m<tspan font-size="7.8" dy="-5.4">2</tspan></text>
<rect x="657.7" y="469.4" width="60.1" height="41.0" rx="8" fill="#F9D3D1"/><text x="661.0" y="486.2" font-size="13.9" fill="#d3aaa8" stroke="#d3aaa8" stroke-width="0.2" textLength="53.4" lengthAdjust="spacingAndGlyphs">Ap.508A</text><text x="663.8" y="500.9" font-size="13.9" fill="#d3aaa8" stroke="#d3aaa8" stroke-width="0.2" textLength="48" lengthAdjust="spacingAndGlyphs">51,94 m<tspan font-size="7.8" dy="-5.4">2</tspan></text>
<clipPath id="c508"><path d="M650 465H718V472L695 476.5L690.8 480L689.6 485.5L683 489.5L680 494.3V512H672V487.5H650Z"/></clipPath>
<g clip-path="url(#c508)"><rect x="657.7" y="469.4" width="60.1" height="41.0" rx="8" fill="#F8735C"/><text x="661.0" y="486.2" font-size="13.9" fill="#141414" stroke="#141414" stroke-width="0.2" textLength="53.4" lengthAdjust="spacingAndGlyphs">Ap.508A</text><text x="663.8" y="500.9" font-size="13.9" fill="#141414" stroke="#141414" stroke-width="0.2" textLength="48" lengthAdjust="spacingAndGlyphs">51,94 m<tspan font-size="7.8" dy="-5.4">2</tspan></text></g>
<rect x="780.2" y="469.4" width="59.7" height="41.0" rx="8" fill="#FCF01C"/><text x="783.3" y="483.6" font-size="13.9" fill="#141414" stroke="#141414" stroke-width="0.2" textLength="53.4" lengthAdjust="spacingAndGlyphs">Ap.507A</text><text x="786.0" y="497.8" font-size="13.9" fill="#141414" stroke="#141414" stroke-width="0.2" textLength="48" lengthAdjust="spacingAndGlyphs">51,94 m<tspan font-size="7.8" dy="-5.4">2</tspan></text>
<clipPath id="c507"><path d="M776 466H786L795 485L801 495L804 512H792L788 503L776 492Z"/></clipPath>
<g clip-path="url(#c507)"><rect x="780.2" y="469.4" width="59.7" height="41.0" rx="8" fill="#FBF6C6"/><text x="783.3" y="483.6" font-size="13.9" fill="#c8c2a8" stroke="#c8c2a8" stroke-width="0.2" textLength="53.4" lengthAdjust="spacingAndGlyphs">Ap.507A</text><text x="786.0" y="497.8" font-size="13.9" fill="#c8c2a8" stroke="#c8c2a8" stroke-width="0.2" textLength="48" lengthAdjust="spacingAndGlyphs">51,94 m<tspan font-size="7.8" dy="-5.4">2</tspan></text></g>
<rect x="881.2" y="469.8" width="59.3" height="40.2" rx="8" fill="#7A8BF0"/><text x="884.1" y="483.6" font-size="13.9" fill="#141414" stroke="#141414" stroke-width="0.2" textLength="53.4" lengthAdjust="spacingAndGlyphs">Ap.506A</text><text x="886.9" y="497.8" font-size="13.9" fill="#141414" stroke="#141414" stroke-width="0.2" textLength="48" lengthAdjust="spacingAndGlyphs">40,57 m<tspan font-size="7.8" dy="-5.4">2</tspan></text>
<rect x="952" y="419" width="59.4" height="40.5" rx="8" fill="#6BB631"/><text x="955.0" y="433.8" font-size="13.9" fill="#141414" stroke="#141414" stroke-width="0.2" textLength="53.4" lengthAdjust="spacingAndGlyphs">Ap.505A</text><text x="957.7" y="447.8" font-size="13.9" fill="#141414" stroke="#141414" stroke-width="0.2" textLength="48" lengthAdjust="spacingAndGlyphs">38,82 m<tspan font-size="7.8" dy="-5.4">2</tspan></text>
<rect x="73.10" y="541.30" width="196.80" height="18.30" fill="#D3A98E" />
<text x="82.4" y="553.9" font-size="13" fill="#1a1410" stroke="#1a1410" stroke-width="0.2">Name</text>
<text x="136.4" y="555.2" font-size="13" fill="#1a1410" stroke="#1a1410" stroke-width="0.2">Bedrooms</text>
<text x="262.6" y="555.2" font-size="13" fill="#1a1410" stroke="#1a1410" stroke-width="0.3" text-anchor="end">Total area</text>
<rect x="73.10" y="561.40" width="196.80" height="14.36" fill="#E7D6CA" />
<text x="75.7" y="571.6" font-size="13" fill="#151515" stroke="#151515" stroke-width="0.2">Apt.501A</text>
<text x="137.5" y="571.6" font-size="13" fill="#151515" stroke="#151515" stroke-width="0.2">1 bedroom</text>
<text x="261.7" y="572.6" font-size="13" fill="#151515" stroke="#151515" stroke-width="0.3" text-anchor="end">51,94</text>
<rect x="73.10" y="575.76" width="196.80" height="14.36" fill="#F4EEE9" />
<text x="75.7" y="586.0" font-size="13" fill="#151515" stroke="#151515" stroke-width="0.2">Apt.502A</text>
<text x="137.5" y="586.0" font-size="13" fill="#151515" stroke="#151515" stroke-width="0.2">1 bedroom</text>
<text x="261.7" y="587.0" font-size="13" fill="#151515" stroke="#151515" stroke-width="0.3" text-anchor="end">51,94</text>
<rect x="73.10" y="590.12" width="196.80" height="14.36" fill="#E7D6CA" />
<text x="75.7" y="600.3" font-size="13" fill="#151515" stroke="#151515" stroke-width="0.2">Apt.503A</text>
<text x="137.5" y="600.3" font-size="13" fill="#151515" stroke="#151515" stroke-width="0.2">1 bedroom</text>
<text x="261.7" y="601.3" font-size="13" fill="#151515" stroke="#151515" stroke-width="0.3" text-anchor="end">51,94</text>
<rect x="73.10" y="604.48" width="196.80" height="14.36" fill="#F4EEE9" />
<text x="75.7" y="614.7" font-size="13" fill="#151515" stroke="#151515" stroke-width="0.2">Apt.504A</text>
<text x="137.5" y="614.7" font-size="13" fill="#151515" stroke="#151515" stroke-width="0.2">Studio</text>
<text x="261.7" y="615.7" font-size="13" fill="#151515" stroke="#151515" stroke-width="0.3" text-anchor="end">40,57</text>
<rect x="73.10" y="618.84" width="196.80" height="14.36" fill="#E7D6CA" />
<text x="75.7" y="629.0" font-size="13" fill="#151515" stroke="#151515" stroke-width="0.2">Apt.505A</text>
<text x="137.5" y="629.0" font-size="13" fill="#151515" stroke="#151515" stroke-width="0.2">Studio</text>
<text x="261.7" y="630.0" font-size="13" fill="#151515" stroke="#151515" stroke-width="0.3" text-anchor="end">38,82</text>
<rect x="73.10" y="633.20" width="196.80" height="14.36" fill="#F4EEE9" />
<text x="75.7" y="643.4" font-size="13" fill="#151515" stroke="#151515" stroke-width="0.2">Apt.506A</text>
<text x="137.5" y="643.4" font-size="13" fill="#151515" stroke="#151515" stroke-width="0.2">Studio</text>
<text x="261.7" y="644.4" font-size="13" fill="#151515" stroke="#151515" stroke-width="0.3" text-anchor="end">40,57</text>
<rect x="73.10" y="647.56" width="196.80" height="14.36" fill="#E7D6CA" />
<text x="75.7" y="657.8" font-size="13" fill="#151515" stroke="#151515" stroke-width="0.2">Apt.507A</text>
<text x="137.5" y="657.8" font-size="13" fill="#151515" stroke="#151515" stroke-width="0.2">1 bedroom</text>
<text x="261.7" y="658.8" font-size="13" fill="#151515" stroke="#151515" stroke-width="0.3" text-anchor="end">51,94</text>
<rect x="73.10" y="661.92" width="196.80" height="14.36" fill="#F4EEE9" />
<text x="75.7" y="672.1" font-size="13" fill="#151515" stroke="#151515" stroke-width="0.2">Apt.508A</text>
<text x="137.5" y="672.1" font-size="13" fill="#151515" stroke="#151515" stroke-width="0.2">1 bedroom</text>
<text x="261.7" y="673.1" font-size="13" fill="#151515" stroke="#151515" stroke-width="0.3" text-anchor="end">51,94</text>
<rect x="288.50" y="541.30" width="196.80" height="18.30" fill="#D3A98E" />
<text x="297.8" y="553.9" font-size="13" fill="#1a1410" stroke="#1a1410" stroke-width="0.2">Name</text>
<text x="351.8" y="555.2" font-size="13" fill="#1a1410" stroke="#1a1410" stroke-width="0.2">Bedrooms</text>
<text x="478.0" y="555.2" font-size="13" fill="#1a1410" stroke="#1a1410" stroke-width="0.3" text-anchor="end">Total area</text>
<rect x="288.50" y="561.40" width="196.80" height="14.36" fill="#E7D6CA" />
<text x="291.1" y="571.6" font-size="13" fill="#151515" stroke="#151515" stroke-width="0.2">Apt.509A</text>
<text x="352.9" y="571.6" font-size="13" fill="#151515" stroke="#151515" stroke-width="0.2">1 bedroom</text>
<text x="477.1" y="572.6" font-size="13" fill="#151515" stroke="#151515" stroke-width="0.3" text-anchor="end">51,94</text>
<rect x="288.50" y="575.76" width="196.80" height="14.36" fill="#F4EEE9" />
<text x="291.1" y="586.0" font-size="13" fill="#151515" stroke="#151515" stroke-width="0.2">Apt.510A</text>
<text x="352.9" y="586.0" font-size="13" fill="#151515" stroke="#151515" stroke-width="0.2">1 bedroom</text>
<text x="477.1" y="587.0" font-size="13" fill="#151515" stroke="#151515" stroke-width="0.3" text-anchor="end">51,94</text>
<rect x="288.50" y="590.12" width="196.80" height="14.36" fill="#E7D6CA" />
<text x="291.1" y="600.3" font-size="13" fill="#151515" stroke="#151515" stroke-width="0.2">Apt.511A</text>
<text x="352.9" y="600.3" font-size="13" fill="#151515" stroke="#151515" stroke-width="0.2">1 bedroom</text>
<text x="477.1" y="601.3" font-size="13" fill="#151515" stroke="#151515" stroke-width="0.3" text-anchor="end">51,94</text>
<rect x="288.50" y="604.48" width="196.80" height="14.36" fill="#F4EEE9" />
<text x="291.1" y="614.7" font-size="13" fill="#151515" stroke="#151515" stroke-width="0.2">Apt.512A</text>
<text x="352.9" y="614.7" font-size="13" fill="#151515" stroke="#151515" stroke-width="0.2">1 bedroom</text>
<text x="477.1" y="615.7" font-size="13" fill="#151515" stroke="#151515" stroke-width="0.3" text-anchor="end">51,94</text>
<rect x="288.50" y="618.84" width="196.80" height="14.36" fill="#E7D6CA" />
<text x="291.1" y="629.0" font-size="13" fill="#151515" stroke="#151515" stroke-width="0.2">Apt.513A</text>
<text x="352.9" y="629.0" font-size="13" fill="#151515" stroke="#151515" stroke-width="0.2">1 bedroom</text>
<text x="477.1" y="630.0" font-size="13" fill="#151515" stroke="#151515" stroke-width="0.3" text-anchor="end">57,87</text>
<rect x="288.50" y="633.20" width="196.80" height="14.36" fill="#F4EEE9" />
<text x="291.1" y="643.4" font-size="13" fill="#151515" stroke="#151515" stroke-width="0.2">Apt.514A</text>
<text x="352.9" y="643.4" font-size="13" fill="#151515" stroke="#151515" stroke-width="0.2">1 bedroom</text>
<text x="477.1" y="644.4" font-size="13" fill="#151515" stroke="#151515" stroke-width="0.3" text-anchor="end">57,87</text>
<rect x="288.50" y="647.56" width="196.80" height="14.36" fill="#E7D6CA" />
<text x="291.1" y="657.8" font-size="13" fill="#151515" stroke="#151515" stroke-width="0.2">Apt.515A</text>
<text x="352.9" y="657.8" font-size="13" fill="#151515" stroke="#151515" stroke-width="0.2">1 bedroom</text>
<text x="477.1" y="658.8" font-size="13" fill="#151515" stroke="#151515" stroke-width="0.3" text-anchor="end">51,94</text>
<rect x="288.50" y="661.92" width="196.80" height="14.36" fill="#F4EEE9" />
<text x="291.1" y="672.1" font-size="13" fill="#151515" stroke="#151515" stroke-width="0.2">Apt.516A</text>
<text x="352.9" y="672.1" font-size="13" fill="#151515" stroke="#151515" stroke-width="0.2">1 bedroom</text>
<text x="477.1" y="673.1" font-size="13" fill="#151515" stroke="#151515" stroke-width="0.3" text-anchor="end">59,41</text>
<path d="M816 533H829V528.3H840V524.3H876V528.3H905V548.3H866V545.5H852V548.3H816Z" fill="#F8E6E6" stroke="#DDB8BA" stroke-width="0.8"/>
<path d="M816 533H829V528.3H838.5V548.3H816Z" fill="#F3B3B5" stroke="#C98E92" stroke-width="0.9"/>
<path d="M819 536H831V531H836V545H819" fill="none" stroke="#C98E92" stroke-width="0.7"/>
<path d="M876 528.3H905V548.3H876Z" fill="#F3B3B5" stroke="#C98E92" stroke-width="0.9"/>
<path d="M887 531H899V544H887V538" fill="none" stroke="#C98E92" stroke-width="0.7"/>
<path d="M876 528.5L890 528.5L885 541L876 536Z" fill="#fff" opacity="0.55"/>
<path d="M857 524.5L861 544" stroke="#C98E92" stroke-width="0.9"/>
<path d="M900.6 534H934.6V654.7H900.6Z" fill="#F3B3B5" stroke="#C98E92" stroke-width="1"/>
<rect x="897.50" y="536.00" width="3.10" height="5.00" fill="#F3B3B5" stroke="#C98E92" stroke-width="0.6"/>
<rect x="934.60" y="536.00" width="3.10" height="5.00" fill="#F3B3B5" stroke="#C98E92" stroke-width="0.6"/>
<rect x="897.50" y="554.00" width="3.10" height="5.00" fill="#F3B3B5" stroke="#C98E92" stroke-width="0.6"/>
<rect x="934.60" y="554.00" width="3.10" height="5.00" fill="#F3B3B5" stroke="#C98E92" stroke-width="0.6"/>
<rect x="897.50" y="569.00" width="3.10" height="5.00" fill="#F3B3B5" stroke="#C98E92" stroke-width="0.6"/>
<rect x="934.60" y="569.00" width="3.10" height="5.00" fill="#F3B3B5" stroke="#C98E92" stroke-width="0.6"/>
<rect x="897.50" y="584.00" width="3.10" height="5.00" fill="#F3B3B5" stroke="#C98E92" stroke-width="0.6"/>
<rect x="934.60" y="584.00" width="3.10" height="5.00" fill="#F3B3B5" stroke="#C98E92" stroke-width="0.6"/>
<rect x="897.50" y="599.00" width="3.10" height="5.00" fill="#F3B3B5" stroke="#C98E92" stroke-width="0.6"/>
<rect x="934.60" y="599.00" width="3.10" height="5.00" fill="#F3B3B5" stroke="#C98E92" stroke-width="0.6"/>
<rect x="904.00" y="530.50" width="5.00" height="3.50" fill="#F3B3B5" stroke="#C98E92" stroke-width="0.6"/>
<rect x="916.00" y="530.50" width="5.00" height="3.50" fill="#F3B3B5" stroke="#C98E92" stroke-width="0.6"/>
<path d="M903 537H931V607H926V619H909V607H903Z" fill="none" stroke="#C98E92" stroke-width="0.8"/>
<path d="M782.8 533H816.5V654.7H782.8Z" fill="#E6202A" stroke="#2a0a0a" stroke-width="1.2"/>
<path d="M786 603V620.5H808V608.5H813V600" fill="none" stroke="#3a0a0a" stroke-width="1"/>
<rect x="779.80" y="537.00" width="3.00" height="4.50" fill="#E6202A" stroke="#2a0a0a" stroke-width="0.7"/>
<rect x="816.50" y="537.00" width="3.00" height="4.50" fill="#E6202A" stroke="#2a0a0a" stroke-width="0.7"/>
<rect x="779.80" y="553.00" width="3.00" height="4.50" fill="#E6202A" stroke="#2a0a0a" stroke-width="0.7"/>
<rect x="816.50" y="553.00" width="3.00" height="4.50" fill="#E6202A" stroke="#2a0a0a" stroke-width="0.7"/>
<rect x="779.80" y="571.00" width="3.00" height="4.50" fill="#E6202A" stroke="#2a0a0a" stroke-width="0.7"/>
<rect x="816.50" y="571.00" width="3.00" height="4.50" fill="#E6202A" stroke="#2a0a0a" stroke-width="0.7"/>
<rect x="779.80" y="587.00" width="3.00" height="4.50" fill="#E6202A" stroke="#2a0a0a" stroke-width="0.7"/>
<rect x="816.50" y="587.00" width="3.00" height="4.50" fill="#E6202A" stroke="#2a0a0a" stroke-width="0.7"/>
<rect x="779.80" y="602.00" width="3.00" height="4.50" fill="#E6202A" stroke="#2a0a0a" stroke-width="0.7"/>
<rect x="816.50" y="602.00" width="3.00" height="4.50" fill="#E6202A" stroke="#2a0a0a" stroke-width="0.7"/>
<rect x="797.00" y="529.50" width="5.00" height="3.50" fill="#E6202A" stroke="#2a0a0a" stroke-width="0.7"/>
<path d="M777 557L822 552L822 569.5L777 574.5Z" fill="#fff" opacity="0.72"/>
<path d="M777 584.5L822 578L822 594.5L777 602.5Z" fill="#fff" opacity="0.72"/>
<path d="M805 532L818 532L818 556Z" fill="#fff" opacity="0.7"/>
<path d="M775 535L783 535L783 541L775 541Z" fill="#F3C9CB"/>
<path d="M896 580L932 595L936 600L896 590Z" fill="#fff" opacity="0.55"/>
<path d="M861 596.8L845.2 625.7L861 618.7Z" fill="#fff" stroke="#111" stroke-width="1"/>
<path d="M861 596.8L877.2 625.7L861 618.7Z" fill="#111" stroke="#111" stroke-width="1"/>
<text x="861.2" y="592.6" font-size="9.5" text-anchor="middle" fill="#222" font-family="Liberation Sans, sans-serif">N</text>
<text x="779.5" y="675.4" font-size="13" fill="#151515" stroke="#151515" stroke-width="0.2">Key Plan</text>
</svg>
</body></html>
